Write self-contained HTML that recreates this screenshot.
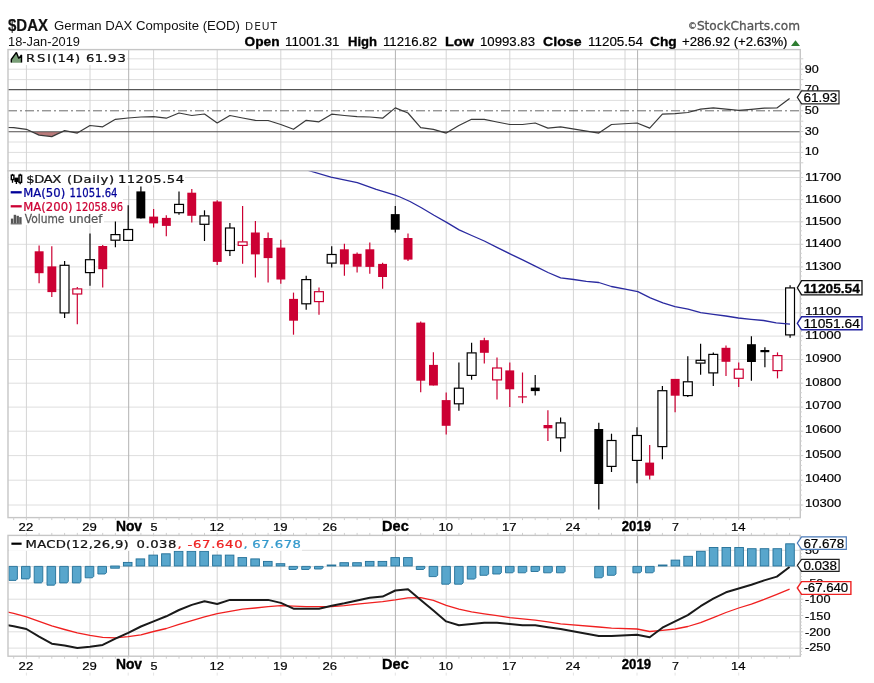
<!DOCTYPE html>
<html><head><meta charset="utf-8"><title>$DAX German DAX Composite (EOD)</title>
<style>html,body{margin:0;padding:0;background:#fff;}svg{display:block}</style></head>
<body><svg width="874" height="683" viewBox="0 0 874 683">
<rect width="874" height="683" fill="#ffffff"/>
<text x="8.0" y="30.7" font-family='"Liberation Sans", Arial, sans-serif' font-size="16" fill="#111" stroke="#111" stroke-width="0.2" font-weight="bold" textLength="40.0" lengthAdjust="spacingAndGlyphs">$DAX</text>
<text x="54.0" y="30.0" font-family='"Liberation Sans", Arial, sans-serif' font-size="12" fill="#111" textLength="186.0" lengthAdjust="spacingAndGlyphs">German DAX Composite (EOD)</text>
<text x="245.0" y="30.1" font-family='"DejaVu Sans", "Liberation Sans", sans-serif' font-size="10.6" fill="#222" letter-spacing="1.0">DEUT</text>
<text x="8.0" y="46.0" font-family='"Liberation Sans", Arial, sans-serif' font-size="12" fill="#111" textLength="72.0" lengthAdjust="spacingAndGlyphs">18-Jan-2019</text>
<text x="244.5" y="46.0" font-family='"Liberation Sans", Arial, sans-serif' font-size="12" fill="#000" stroke="#000" stroke-width="0.3" font-weight="bold" textLength="35.0" lengthAdjust="spacingAndGlyphs">Open</text>
<text x="285.0" y="46.0" font-family='"Liberation Sans", Arial, sans-serif' font-size="12" fill="#000" stroke="#000" stroke-width="0.15" textLength="54.5" lengthAdjust="spacingAndGlyphs">11001.31</text>
<text x="348.0" y="46.0" font-family='"Liberation Sans", Arial, sans-serif' font-size="12" fill="#000" stroke="#000" stroke-width="0.3" font-weight="bold" textLength="29.0" lengthAdjust="spacingAndGlyphs">High</text>
<text x="383.0" y="46.0" font-family='"Liberation Sans", Arial, sans-serif' font-size="12" fill="#000" stroke="#000" stroke-width="0.15" textLength="54.0" lengthAdjust="spacingAndGlyphs">11216.82</text>
<text x="445.0" y="46.0" font-family='"Liberation Sans", Arial, sans-serif' font-size="12" fill="#000" stroke="#000" stroke-width="0.3" font-weight="bold" textLength="29.0" lengthAdjust="spacingAndGlyphs">Low</text>
<text x="480.0" y="46.0" font-family='"Liberation Sans", Arial, sans-serif' font-size="12" fill="#000" stroke="#000" stroke-width="0.15" textLength="55.0" lengthAdjust="spacingAndGlyphs">10993.83</text>
<text x="543.0" y="46.0" font-family='"Liberation Sans", Arial, sans-serif' font-size="12" fill="#000" stroke="#000" stroke-width="0.3" font-weight="bold" textLength="38.5" lengthAdjust="spacingAndGlyphs">Close</text>
<text x="588.0" y="46.0" font-family='"Liberation Sans", Arial, sans-serif' font-size="12" fill="#000" stroke="#000" stroke-width="0.15" textLength="55.0" lengthAdjust="spacingAndGlyphs">11205.54</text>
<text x="650.0" y="46.0" font-family='"Liberation Sans", Arial, sans-serif' font-size="12" fill="#000" stroke="#000" stroke-width="0.3" font-weight="bold" textLength="26.7" lengthAdjust="spacingAndGlyphs">Chg</text>
<text x="682.0" y="46.0" font-family='"Liberation Sans", Arial, sans-serif' font-size="12" fill="#000" stroke="#000" stroke-width="0.15" textLength="105.5" lengthAdjust="spacingAndGlyphs">+286.92 (+2.63%)</text>
<polygon points="791,46 800,46 795.5,40.2" fill="#2e7d32"/>
<text x="688" y="30" font-family='"DejaVu Sans", "Liberation Sans", sans-serif' font-size="12.3" fill="#555" stroke="#555" stroke-width="0.3" textLength="112" lengthAdjust="spacingAndGlyphs"><tspan font-size="9" dy="-1.2">©</tspan><tspan dy="1.2">StockCharts.com</tspan></text>
<rect x="8.0" y="49.6" width="792.3" height="121.2" fill="#ffffff" stroke="none" stroke-width="1"/>
<line x1="8.0" y1="58.8" x2="800.3" y2="58.8" stroke="#dedede" stroke-width="1"/>
<line x1="8.0" y1="69.2" x2="800.3" y2="69.2" stroke="#dedede" stroke-width="1"/>
<line x1="8.0" y1="79.6" x2="800.3" y2="79.6" stroke="#dedede" stroke-width="1"/>
<line x1="8.0" y1="100.4" x2="800.3" y2="100.4" stroke="#dedede" stroke-width="1"/>
<line x1="8.0" y1="121.2" x2="800.3" y2="121.2" stroke="#dedede" stroke-width="1"/>
<line x1="8.0" y1="142.0" x2="800.3" y2="142.0" stroke="#dedede" stroke-width="1"/>
<line x1="8.0" y1="152.4" x2="800.3" y2="152.4" stroke="#dedede" stroke-width="1"/>
<line x1="8.0" y1="162.8" x2="800.3" y2="162.8" stroke="#dedede" stroke-width="1"/>
<line x1="26.4" y1="49.6" x2="26.4" y2="170.8" stroke="#d4d4d4" stroke-width="1"/>
<line x1="90.0" y1="49.6" x2="90.0" y2="170.8" stroke="#d4d4d4" stroke-width="1"/>
<line x1="153.6" y1="49.6" x2="153.6" y2="170.8" stroke="#d4d4d4" stroke-width="1"/>
<line x1="217.2" y1="49.6" x2="217.2" y2="170.8" stroke="#d4d4d4" stroke-width="1"/>
<line x1="280.8" y1="49.6" x2="280.8" y2="170.8" stroke="#d4d4d4" stroke-width="1"/>
<line x1="331.7" y1="49.6" x2="331.7" y2="170.8" stroke="#d4d4d4" stroke-width="1"/>
<line x1="446.2" y1="49.6" x2="446.2" y2="170.8" stroke="#d4d4d4" stroke-width="1"/>
<line x1="509.8" y1="49.6" x2="509.8" y2="170.8" stroke="#d4d4d4" stroke-width="1"/>
<line x1="573.4" y1="49.6" x2="573.4" y2="170.8" stroke="#d4d4d4" stroke-width="1"/>
<line x1="625.0" y1="49.6" x2="625.0" y2="170.8" stroke="#d4d4d4" stroke-width="1"/>
<line x1="675.1" y1="49.6" x2="675.1" y2="170.8" stroke="#d4d4d4" stroke-width="1"/>
<line x1="738.7" y1="49.6" x2="738.7" y2="170.8" stroke="#d4d4d4" stroke-width="1"/>
<line x1="128.7" y1="49.6" x2="128.7" y2="170.8" stroke="#b2b2b2" stroke-width="1.0"/>
<line x1="395.4" y1="49.6" x2="395.4" y2="170.8" stroke="#b2b2b2" stroke-width="1.0"/>
<line x1="637.6" y1="49.6" x2="637.6" y2="170.8" stroke="#b2b2b2" stroke-width="1.0"/>
<clipPath id="cr"><rect x="8.0" y="49.6" width="792.3" height="121.20000000000002"/></clipPath>
<clipPath id="cr30"><rect x="8.0" y="131.8" width="792.3" height="40"/></clipPath>
<g clip-path="url(#cr)"><polygon clip-path="url(#cr30)" points="1.0,131.8 1.0,127.4 13.7,127.6 26.4,129.3 39.1,135.1 51.8,136.6 64.6,130.6 77.3,133.1 90.0,125.5 102.7,126.8 115.4,119.3 128.2,118.0 140.9,117.0 153.6,116.7 166.3,118.2 179.0,113.0 191.8,115.5 204.5,114.0 217.2,123.0 229.9,115.5 242.6,118.0 255.4,120.3 268.1,120.5 280.8,124.5 293.5,129.3 306.2,120.3 319.0,121.8 331.7,114.2 344.4,115.5 357.1,116.7 369.8,117.0 382.6,118.2 395.3,107.9 408.0,113.0 420.7,127.6 433.4,129.3 446.2,133.1 458.9,125.5 471.6,119.3 484.3,119.3 497.0,122.0 509.8,124.5 522.5,124.5 535.2,123.0 547.9,128.1 560.6,126.8 598.8,133.1 611.5,124.5 637.0,123.0 649.7,128.1 662.4,114.2 675.1,113.7 687.8,112.5 700.6,109.2 713.3,107.9 726.0,109.2 738.7,110.4 751.4,109.4 764.2,108.2 776.9,107.9 789.6,98.4 789.6,131.8" fill="#b97a7a"/></g>
<line x1="8.0" y1="89.6" x2="800.3" y2="89.6" stroke="#555" stroke-width="1.1"/>
<line x1="8.0" y1="131.8" x2="800.3" y2="131.8" stroke="#555" stroke-width="1.1"/>
<line x1="8.0" y1="110.8" x2="800.3" y2="110.8" stroke="#6a6a6a" stroke-width="1" stroke-dasharray="9,3,2,3"/>
<polyline clip-path="url(#cr)" points="1.0,127.4 13.7,127.6 26.4,129.3 39.1,135.1 51.8,136.6 64.6,130.6 77.3,133.1 90.0,125.5 102.7,126.8 115.4,119.3 128.2,118.0 140.9,117.0 153.6,116.7 166.3,118.2 179.0,113.0 191.8,115.5 204.5,114.0 217.2,123.0 229.9,115.5 242.6,118.0 255.4,120.3 268.1,120.5 280.8,124.5 293.5,129.3 306.2,120.3 319.0,121.8 331.7,114.2 344.4,115.5 357.1,116.7 369.8,117.0 382.6,118.2 395.3,107.9 408.0,113.0 420.7,127.6 433.4,129.3 446.2,133.1 458.9,125.5 471.6,119.3 484.3,119.3 497.0,122.0 509.8,124.5 522.5,124.5 535.2,123.0 547.9,128.1 560.6,126.8 598.8,133.1 611.5,124.5 637.0,123.0 649.7,128.1 662.4,114.2 675.1,113.7 687.8,112.5 700.6,109.2 713.3,107.9 726.0,109.2 738.7,110.4 751.4,109.4 764.2,108.2 776.9,107.9 789.6,98.4" fill="none" stroke="#3a3a3a" stroke-width="1.2" stroke-linejoin="round"/>
<rect x="9.0" y="50.5" width="118.0" height="14.5" fill="#ffffff" stroke="none" stroke-width="1"/>
<path d="M11.3,62.8 L11.3,59.5 L16.4,52.4 L18.8,58.4 L21.5,55.0 L21.5,62.8 Z" fill="#799e77"/>
<path d="M11.3,62.6 L11.3,59.5 L16.4,52.4 L18.8,58.4 L21.5,55.0 L21.5,62.6" fill="none" stroke="#000" stroke-width="1.4" stroke-linejoin="bevel"/>
<text transform="translate(25.9 62.3) scale(1.2 1)" font-family='"DejaVu Sans", "Liberation Sans", sans-serif' font-size="11" fill="#111" stroke="#111" stroke-width="0.25" x="0.00 9.17 17.50 21.75 26.42 33.33 40.92 45.50 50.08 57.33 64.67 68.42 76.33">RSI(14) 61.93</text>
<rect x="8.0" y="49.6" width="792.3" height="121.2" fill="none" stroke="#c6c6c6" stroke-width="1.4"/>
<line x1="800.3" y1="162.8" x2="803.3" y2="162.8" stroke="#cfcfcf" stroke-width="1"/>
<line x1="800.3" y1="152.4" x2="803.3" y2="152.4" stroke="#cfcfcf" stroke-width="1"/>
<line x1="800.3" y1="142.0" x2="803.3" y2="142.0" stroke="#cfcfcf" stroke-width="1"/>
<line x1="800.3" y1="131.6" x2="803.3" y2="131.6" stroke="#cfcfcf" stroke-width="1"/>
<line x1="800.3" y1="121.2" x2="803.3" y2="121.2" stroke="#cfcfcf" stroke-width="1"/>
<line x1="800.3" y1="110.8" x2="803.3" y2="110.8" stroke="#cfcfcf" stroke-width="1"/>
<line x1="800.3" y1="100.4" x2="803.3" y2="100.4" stroke="#cfcfcf" stroke-width="1"/>
<line x1="800.3" y1="90.0" x2="803.3" y2="90.0" stroke="#cfcfcf" stroke-width="1"/>
<line x1="800.3" y1="79.6" x2="803.3" y2="79.6" stroke="#cfcfcf" stroke-width="1"/>
<line x1="800.3" y1="69.2" x2="803.3" y2="69.2" stroke="#cfcfcf" stroke-width="1"/>
<line x1="800.3" y1="58.8" x2="803.3" y2="58.8" stroke="#cfcfcf" stroke-width="1"/>
<line x1="800.3" y1="157.6" x2="801.9" y2="157.6" stroke="#cfcfcf" stroke-width="1"/>
<line x1="800.3" y1="147.2" x2="801.9" y2="147.2" stroke="#cfcfcf" stroke-width="1"/>
<line x1="800.3" y1="136.8" x2="801.9" y2="136.8" stroke="#cfcfcf" stroke-width="1"/>
<line x1="800.3" y1="126.4" x2="801.9" y2="126.4" stroke="#cfcfcf" stroke-width="1"/>
<line x1="800.3" y1="116.0" x2="801.9" y2="116.0" stroke="#cfcfcf" stroke-width="1"/>
<line x1="800.3" y1="105.6" x2="801.9" y2="105.6" stroke="#cfcfcf" stroke-width="1"/>
<line x1="800.3" y1="95.2" x2="801.9" y2="95.2" stroke="#cfcfcf" stroke-width="1"/>
<line x1="800.3" y1="84.8" x2="801.9" y2="84.8" stroke="#cfcfcf" stroke-width="1"/>
<line x1="800.3" y1="74.4" x2="801.9" y2="74.4" stroke="#cfcfcf" stroke-width="1"/>
<line x1="800.3" y1="64.0" x2="801.9" y2="64.0" stroke="#cfcfcf" stroke-width="1"/>
<text x="804.8" y="72.6" font-family='"Liberation Sans", Arial, sans-serif' font-size="11.8" fill="#000" stroke="#000" stroke-width="0.2" textLength="14.0" lengthAdjust="spacingAndGlyphs">90</text>
<text x="804.8" y="93.3" font-family='"Liberation Sans", Arial, sans-serif' font-size="11.8" fill="#000" stroke="#000" stroke-width="0.2" textLength="14.0" lengthAdjust="spacingAndGlyphs">70</text>
<text x="804.8" y="113.9" font-family='"Liberation Sans", Arial, sans-serif' font-size="11.8" fill="#000" stroke="#000" stroke-width="0.2" textLength="14.0" lengthAdjust="spacingAndGlyphs">50</text>
<text x="804.8" y="134.5" font-family='"Liberation Sans", Arial, sans-serif' font-size="11.8" fill="#000" stroke="#000" stroke-width="0.2" textLength="14.0" lengthAdjust="spacingAndGlyphs">30</text>
<text x="804.8" y="155.2" font-family='"Liberation Sans", Arial, sans-serif' font-size="11.8" fill="#000" stroke="#000" stroke-width="0.2" textLength="14.0" lengthAdjust="spacingAndGlyphs">10</text>
<polygon points="797.3,97.3 801.6,90.8 839.0,90.8 839.0,103.8 801.6,103.8" fill="#fff" stroke="#222" stroke-width="1.2" stroke-linejoin="miter"/>
<text x="803.4" y="101.7" font-family='"Liberation Sans", Arial, sans-serif' font-size="12.2" fill="#000" stroke="#000" stroke-width="0.2" textLength="34.0" lengthAdjust="spacingAndGlyphs">61.93</text>
<rect x="8.0" y="170.8" width="792.3" height="346.8" fill="#ffffff" stroke="none" stroke-width="1"/>
<line x1="8.0" y1="505.0" x2="800.3" y2="505.0" stroke="#dedede" stroke-width="1"/>
<line x1="8.0" y1="480.2" x2="800.3" y2="480.2" stroke="#dedede" stroke-width="1"/>
<line x1="8.0" y1="455.6" x2="800.3" y2="455.6" stroke="#dedede" stroke-width="1"/>
<line x1="8.0" y1="431.2" x2="800.3" y2="431.2" stroke="#dedede" stroke-width="1"/>
<line x1="8.0" y1="407.1" x2="800.3" y2="407.1" stroke="#dedede" stroke-width="1"/>
<line x1="8.0" y1="383.2" x2="800.3" y2="383.2" stroke="#dedede" stroke-width="1"/>
<line x1="8.0" y1="359.5" x2="800.3" y2="359.5" stroke="#dedede" stroke-width="1"/>
<line x1="8.0" y1="336.1" x2="800.3" y2="336.1" stroke="#dedede" stroke-width="1"/>
<line x1="8.0" y1="312.8" x2="800.3" y2="312.8" stroke="#dedede" stroke-width="1"/>
<line x1="8.0" y1="289.7" x2="800.3" y2="289.7" stroke="#dedede" stroke-width="1"/>
<line x1="8.0" y1="266.9" x2="800.3" y2="266.9" stroke="#dedede" stroke-width="1"/>
<line x1="8.0" y1="244.3" x2="800.3" y2="244.3" stroke="#dedede" stroke-width="1"/>
<line x1="8.0" y1="221.8" x2="800.3" y2="221.8" stroke="#dedede" stroke-width="1"/>
<line x1="8.0" y1="199.6" x2="800.3" y2="199.6" stroke="#dedede" stroke-width="1"/>
<line x1="8.0" y1="177.5" x2="800.3" y2="177.5" stroke="#dedede" stroke-width="1"/>
<line x1="26.4" y1="170.8" x2="26.4" y2="517.6" stroke="#d4d4d4" stroke-width="1"/>
<line x1="90.0" y1="170.8" x2="90.0" y2="517.6" stroke="#d4d4d4" stroke-width="1"/>
<line x1="153.6" y1="170.8" x2="153.6" y2="517.6" stroke="#d4d4d4" stroke-width="1"/>
<line x1="217.2" y1="170.8" x2="217.2" y2="517.6" stroke="#d4d4d4" stroke-width="1"/>
<line x1="280.8" y1="170.8" x2="280.8" y2="517.6" stroke="#d4d4d4" stroke-width="1"/>
<line x1="331.7" y1="170.8" x2="331.7" y2="517.6" stroke="#d4d4d4" stroke-width="1"/>
<line x1="446.2" y1="170.8" x2="446.2" y2="517.6" stroke="#d4d4d4" stroke-width="1"/>
<line x1="509.8" y1="170.8" x2="509.8" y2="517.6" stroke="#d4d4d4" stroke-width="1"/>
<line x1="573.4" y1="170.8" x2="573.4" y2="517.6" stroke="#d4d4d4" stroke-width="1"/>
<line x1="625.0" y1="170.8" x2="625.0" y2="517.6" stroke="#d4d4d4" stroke-width="1"/>
<line x1="675.1" y1="170.8" x2="675.1" y2="517.6" stroke="#d4d4d4" stroke-width="1"/>
<line x1="738.7" y1="170.8" x2="738.7" y2="517.6" stroke="#d4d4d4" stroke-width="1"/>
<line x1="128.7" y1="170.8" x2="128.7" y2="517.6" stroke="#b2b2b2" stroke-width="1.0"/>
<line x1="395.4" y1="170.8" x2="395.4" y2="517.6" stroke="#b2b2b2" stroke-width="1.0"/>
<line x1="637.6" y1="170.8" x2="637.6" y2="517.6" stroke="#b2b2b2" stroke-width="1.0"/>
<clipPath id="cm"><rect x="8.0" y="170.8" width="792.3" height="346.8"/></clipPath>
<line x1="39.1" y1="245.5" x2="39.1" y2="283.3" stroke="#cc0033" stroke-width="1.2"/>
<rect x="34.7" y="251.3" width="8.9" height="21.9" fill="#cc0033" stroke="none" stroke-width="1"/>
<line x1="51.8" y1="246.3" x2="51.8" y2="297.1" stroke="#cc0033" stroke-width="1.2"/>
<rect x="47.4" y="266.4" width="8.9" height="25.7" fill="#cc0033" stroke="none" stroke-width="1"/>
<line x1="64.6" y1="261.1" x2="64.6" y2="265.2" stroke="#000000" stroke-width="1.2"/>
<line x1="64.6" y1="313.0" x2="64.6" y2="318.0" stroke="#000000" stroke-width="1.2"/>
<rect x="60.1" y="265.3" width="8.9" height="47.6" fill="#fff" stroke="#000000" stroke-width="1.2"/>
<line x1="77.3" y1="287.0" x2="77.3" y2="288.8" stroke="#cc0033" stroke-width="1.2"/>
<line x1="77.3" y1="294.1" x2="77.3" y2="324.3" stroke="#cc0033" stroke-width="1.2"/>
<rect x="72.8" y="288.9" width="8.9" height="5.1" fill="#fff" stroke="#cc0033" stroke-width="1.2"/>
<line x1="90.0" y1="233.5" x2="90.0" y2="259.6" stroke="#000000" stroke-width="1.2"/>
<line x1="90.0" y1="272.7" x2="90.0" y2="285.8" stroke="#000000" stroke-width="1.2"/>
<rect x="85.5" y="259.7" width="8.9" height="12.9" fill="#fff" stroke="#000000" stroke-width="1.2"/>
<line x1="102.7" y1="245.0" x2="102.7" y2="287.6" stroke="#cc0033" stroke-width="1.2"/>
<rect x="98.3" y="246.0" width="8.9" height="23.2" fill="#cc0033" stroke="none" stroke-width="1"/>
<line x1="115.4" y1="221.6" x2="115.4" y2="234.5" stroke="#000000" stroke-width="1.2"/>
<line x1="115.4" y1="240.3" x2="115.4" y2="247.3" stroke="#000000" stroke-width="1.2"/>
<rect x="111.0" y="234.6" width="8.9" height="5.6" fill="#fff" stroke="#000000" stroke-width="1.2"/>
<line x1="128.2" y1="205.3" x2="128.2" y2="229.4" stroke="#000000" stroke-width="1.2"/>
<line x1="128.2" y1="240.5" x2="128.2" y2="240.5" stroke="#000000" stroke-width="1.2"/>
<rect x="123.7" y="229.5" width="8.9" height="10.9" fill="#fff" stroke="#000000" stroke-width="1.2"/>
<line x1="140.9" y1="186.4" x2="140.9" y2="218.4" stroke="#000000" stroke-width="1.2"/>
<rect x="136.4" y="191.4" width="8.9" height="27.0" fill="#000000" stroke="none" stroke-width="1"/>
<line x1="153.6" y1="209.0" x2="153.6" y2="227.4" stroke="#cc0033" stroke-width="1.2"/>
<rect x="149.2" y="216.6" width="8.9" height="6.8" fill="#cc0033" stroke="none" stroke-width="1"/>
<line x1="166.3" y1="215.3" x2="166.3" y2="236.2" stroke="#cc0033" stroke-width="1.2"/>
<rect x="161.9" y="217.9" width="8.9" height="8.0" fill="#cc0033" stroke="none" stroke-width="1"/>
<line x1="179.0" y1="191.4" x2="179.0" y2="204.3" stroke="#000000" stroke-width="1.2"/>
<line x1="179.0" y1="212.8" x2="179.0" y2="214.8" stroke="#000000" stroke-width="1.2"/>
<rect x="174.6" y="204.4" width="8.9" height="8.3" fill="#fff" stroke="#000000" stroke-width="1.2"/>
<line x1="191.8" y1="188.9" x2="191.8" y2="222.4" stroke="#cc0033" stroke-width="1.2"/>
<rect x="187.3" y="192.7" width="8.9" height="23.1" fill="#cc0033" stroke="none" stroke-width="1"/>
<line x1="204.5" y1="210.3" x2="204.5" y2="215.8" stroke="#000000" stroke-width="1.2"/>
<line x1="204.5" y1="224.4" x2="204.5" y2="241.0" stroke="#000000" stroke-width="1.2"/>
<rect x="200.0" y="215.9" width="8.9" height="8.4" fill="#fff" stroke="#000000" stroke-width="1.2"/>
<line x1="217.2" y1="200.2" x2="217.2" y2="264.9" stroke="#cc0033" stroke-width="1.2"/>
<rect x="212.8" y="201.5" width="8.9" height="60.4" fill="#cc0033" stroke="none" stroke-width="1"/>
<line x1="229.9" y1="222.9" x2="229.9" y2="227.9" stroke="#000000" stroke-width="1.2"/>
<line x1="229.9" y1="250.6" x2="229.9" y2="256.1" stroke="#000000" stroke-width="1.2"/>
<rect x="225.5" y="228.0" width="8.9" height="22.5" fill="#fff" stroke="#000000" stroke-width="1.2"/>
<line x1="242.6" y1="206.0" x2="242.6" y2="241.8" stroke="#cc0033" stroke-width="1.2"/>
<line x1="242.6" y1="245.5" x2="242.6" y2="263.7" stroke="#cc0033" stroke-width="1.2"/>
<rect x="238.2" y="241.9" width="8.9" height="3.5" fill="#fff" stroke="#cc0033" stroke-width="1.2"/>
<line x1="255.4" y1="221.1" x2="255.4" y2="277.5" stroke="#cc0033" stroke-width="1.2"/>
<rect x="250.9" y="232.5" width="8.9" height="21.9" fill="#cc0033" stroke="none" stroke-width="1"/>
<line x1="268.1" y1="232.5" x2="268.1" y2="282.5" stroke="#cc0033" stroke-width="1.2"/>
<rect x="263.6" y="238.0" width="8.9" height="20.1" fill="#cc0033" stroke="none" stroke-width="1"/>
<line x1="280.8" y1="239.8" x2="280.8" y2="283.8" stroke="#cc0033" stroke-width="1.2"/>
<rect x="276.4" y="247.6" width="8.9" height="31.9" fill="#cc0033" stroke="none" stroke-width="1"/>
<line x1="293.5" y1="292.6" x2="293.5" y2="334.7" stroke="#cc0033" stroke-width="1.2"/>
<rect x="289.1" y="298.9" width="8.9" height="21.8" fill="#cc0033" stroke="none" stroke-width="1"/>
<line x1="306.2" y1="275.7" x2="306.2" y2="279.5" stroke="#000000" stroke-width="1.2"/>
<line x1="306.2" y1="303.9" x2="306.2" y2="309.7" stroke="#000000" stroke-width="1.2"/>
<rect x="301.8" y="279.6" width="8.9" height="24.2" fill="#fff" stroke="#000000" stroke-width="1.2"/>
<line x1="319.0" y1="287.6" x2="319.0" y2="291.6" stroke="#cc0033" stroke-width="1.2"/>
<line x1="319.0" y1="301.7" x2="319.0" y2="314.7" stroke="#cc0033" stroke-width="1.2"/>
<rect x="314.5" y="291.7" width="8.9" height="9.9" fill="#fff" stroke="#cc0033" stroke-width="1.2"/>
<line x1="331.7" y1="246.3" x2="331.7" y2="254.4" stroke="#000000" stroke-width="1.2"/>
<line x1="331.7" y1="263.2" x2="331.7" y2="267.4" stroke="#000000" stroke-width="1.2"/>
<rect x="327.2" y="254.5" width="8.9" height="8.6" fill="#fff" stroke="#000000" stroke-width="1.2"/>
<line x1="344.4" y1="243.8" x2="344.4" y2="275.7" stroke="#cc0033" stroke-width="1.2"/>
<rect x="339.9" y="249.3" width="8.9" height="15.1" fill="#cc0033" stroke="none" stroke-width="1"/>
<line x1="357.1" y1="252.6" x2="357.1" y2="272.5" stroke="#cc0033" stroke-width="1.2"/>
<rect x="352.7" y="253.8" width="8.9" height="12.9" fill="#cc0033" stroke="none" stroke-width="1"/>
<line x1="369.8" y1="242.5" x2="369.8" y2="273.7" stroke="#cc0033" stroke-width="1.2"/>
<rect x="365.4" y="249.3" width="8.9" height="17.6" fill="#cc0033" stroke="none" stroke-width="1"/>
<line x1="382.6" y1="262.7" x2="382.6" y2="288.8" stroke="#cc0033" stroke-width="1.2"/>
<rect x="378.1" y="263.9" width="8.9" height="13.1" fill="#cc0033" stroke="none" stroke-width="1"/>
<line x1="395.3" y1="206.0" x2="395.3" y2="232.5" stroke="#000000" stroke-width="1.2"/>
<rect x="390.8" y="214.1" width="8.9" height="15.6" fill="#000000" stroke="none" stroke-width="1"/>
<line x1="408.0" y1="233.5" x2="408.0" y2="261.1" stroke="#cc0033" stroke-width="1.2"/>
<rect x="403.6" y="238.0" width="8.9" height="21.6" fill="#cc0033" stroke="none" stroke-width="1"/>
<line x1="420.7" y1="321.4" x2="420.7" y2="392.3" stroke="#cc0033" stroke-width="1.2"/>
<rect x="416.3" y="322.6" width="8.9" height="58.1" fill="#cc0033" stroke="none" stroke-width="1"/>
<line x1="433.4" y1="352.3" x2="433.4" y2="385.5" stroke="#cc0033" stroke-width="1.2"/>
<rect x="429.0" y="364.9" width="8.9" height="20.6" fill="#cc0033" stroke="none" stroke-width="1"/>
<line x1="446.2" y1="392.6" x2="446.2" y2="434.6" stroke="#cc0033" stroke-width="1.2"/>
<rect x="441.7" y="400.1" width="8.9" height="25.7" fill="#cc0033" stroke="none" stroke-width="1"/>
<line x1="458.9" y1="362.4" x2="458.9" y2="388.1" stroke="#000000" stroke-width="1.2"/>
<line x1="458.9" y1="403.9" x2="458.9" y2="410.7" stroke="#000000" stroke-width="1.2"/>
<rect x="454.4" y="388.2" width="8.9" height="15.6" fill="#fff" stroke="#000000" stroke-width="1.2"/>
<line x1="471.6" y1="342.8" x2="471.6" y2="352.8" stroke="#000000" stroke-width="1.2"/>
<line x1="471.6" y1="375.5" x2="471.6" y2="379.8" stroke="#000000" stroke-width="1.2"/>
<rect x="467.2" y="352.9" width="8.9" height="22.5" fill="#fff" stroke="#000000" stroke-width="1.2"/>
<line x1="484.3" y1="337.7" x2="484.3" y2="363.4" stroke="#cc0033" stroke-width="1.2"/>
<rect x="479.9" y="340.2" width="8.9" height="12.6" fill="#cc0033" stroke="none" stroke-width="1"/>
<line x1="497.0" y1="357.4" x2="497.0" y2="367.9" stroke="#cc0033" stroke-width="1.2"/>
<line x1="497.0" y1="380.0" x2="497.0" y2="399.4" stroke="#cc0033" stroke-width="1.2"/>
<rect x="492.6" y="368.0" width="8.9" height="11.9" fill="#fff" stroke="#cc0033" stroke-width="1.2"/>
<line x1="509.8" y1="362.4" x2="509.8" y2="406.9" stroke="#cc0033" stroke-width="1.2"/>
<rect x="505.3" y="370.4" width="8.9" height="18.9" fill="#cc0033" stroke="none" stroke-width="1"/>
<line x1="522.5" y1="372.5" x2="522.5" y2="403.2" stroke="#cc0033" stroke-width="1.2"/>
<line x1="518.0" y1="396.9" x2="526.9" y2="396.9" stroke="#cc0033" stroke-width="1.2"/>
<line x1="535.2" y1="375.0" x2="535.2" y2="395.6" stroke="#000000" stroke-width="1.2"/>
<rect x="530.8" y="387.6" width="8.9" height="3.5" fill="#000000" stroke="none" stroke-width="1"/>
<line x1="547.9" y1="410.2" x2="547.9" y2="440.9" stroke="#cc0033" stroke-width="1.2"/>
<rect x="543.5" y="425.0" width="8.9" height="3.3" fill="#cc0033" stroke="none" stroke-width="1"/>
<line x1="560.6" y1="417.5" x2="560.6" y2="422.8" stroke="#000000" stroke-width="1.2"/>
<line x1="560.6" y1="437.9" x2="560.6" y2="451.7" stroke="#000000" stroke-width="1.2"/>
<rect x="556.2" y="422.9" width="8.9" height="14.9" fill="#fff" stroke="#000000" stroke-width="1.2"/>
<line x1="598.8" y1="422.7" x2="598.8" y2="509.6" stroke="#000000" stroke-width="1.2"/>
<rect x="594.3" y="429.0" width="8.9" height="55.0" fill="#000000" stroke="none" stroke-width="1"/>
<line x1="611.5" y1="433.7" x2="611.5" y2="440.4" stroke="#000000" stroke-width="1.2"/>
<line x1="611.5" y1="466.5" x2="611.5" y2="472.0" stroke="#000000" stroke-width="1.2"/>
<rect x="607.1" y="440.5" width="8.9" height="25.9" fill="#fff" stroke="#000000" stroke-width="1.2"/>
<line x1="637.0" y1="427.3" x2="637.0" y2="435.4" stroke="#000000" stroke-width="1.2"/>
<line x1="637.0" y1="460.5" x2="637.0" y2="483.2" stroke="#000000" stroke-width="1.2"/>
<rect x="632.5" y="435.5" width="8.9" height="24.9" fill="#fff" stroke="#000000" stroke-width="1.2"/>
<line x1="649.7" y1="444.9" x2="649.7" y2="479.4" stroke="#cc0033" stroke-width="1.2"/>
<rect x="645.2" y="462.6" width="8.9" height="13.0" fill="#cc0033" stroke="none" stroke-width="1"/>
<line x1="662.4" y1="386.1" x2="662.4" y2="390.6" stroke="#000000" stroke-width="1.2"/>
<line x1="662.4" y1="446.7" x2="662.4" y2="459.3" stroke="#000000" stroke-width="1.2"/>
<rect x="657.9" y="390.7" width="8.9" height="55.9" fill="#fff" stroke="#000000" stroke-width="1.2"/>
<line x1="675.1" y1="378.9" x2="675.1" y2="412.2" stroke="#cc0033" stroke-width="1.2"/>
<rect x="670.7" y="378.9" width="8.9" height="16.8" fill="#cc0033" stroke="none" stroke-width="1"/>
<line x1="687.8" y1="356.2" x2="687.8" y2="381.7" stroke="#000000" stroke-width="1.2"/>
<line x1="687.8" y1="395.7" x2="687.8" y2="397.0" stroke="#000000" stroke-width="1.2"/>
<rect x="683.4" y="381.8" width="8.9" height="13.8" fill="#fff" stroke="#000000" stroke-width="1.2"/>
<line x1="700.6" y1="343.8" x2="700.6" y2="360.2" stroke="#000000" stroke-width="1.2"/>
<line x1="700.6" y1="363.2" x2="700.6" y2="374.7" stroke="#000000" stroke-width="1.2"/>
<rect x="696.1" y="360.3" width="8.9" height="2.8" fill="#fff" stroke="#000000" stroke-width="1.2"/>
<line x1="713.3" y1="352.4" x2="713.3" y2="354.3" stroke="#000000" stroke-width="1.2"/>
<line x1="713.3" y1="373.0" x2="713.3" y2="385.9" stroke="#000000" stroke-width="1.2"/>
<rect x="708.8" y="354.4" width="8.9" height="18.5" fill="#fff" stroke="#000000" stroke-width="1.2"/>
<line x1="726.0" y1="345.4" x2="726.0" y2="375.9" stroke="#cc0033" stroke-width="1.2"/>
<rect x="721.5" y="347.8" width="8.9" height="14.0" fill="#cc0033" stroke="none" stroke-width="1"/>
<line x1="738.7" y1="362.5" x2="738.7" y2="369.1" stroke="#cc0033" stroke-width="1.2"/>
<line x1="738.7" y1="378.4" x2="738.7" y2="387.1" stroke="#cc0033" stroke-width="1.2"/>
<rect x="734.3" y="369.2" width="8.9" height="9.1" fill="#fff" stroke="#cc0033" stroke-width="1.2"/>
<line x1="751.4" y1="336.3" x2="751.4" y2="380.8" stroke="#000000" stroke-width="1.2"/>
<rect x="747.0" y="344.2" width="8.9" height="17.8" fill="#000000" stroke="none" stroke-width="1"/>
<line x1="764.9" y1="347.3" x2="764.9" y2="367.2" stroke="#000000" stroke-width="1.2"/>
<rect x="760.4" y="350.0" width="8.9" height="2.2" fill="#000000" stroke="none" stroke-width="1"/>
<line x1="777.5" y1="352.4" x2="777.5" y2="355.5" stroke="#cc0033" stroke-width="1.2"/>
<line x1="777.5" y1="370.7" x2="777.5" y2="378.4" stroke="#cc0033" stroke-width="1.2"/>
<rect x="773.0" y="355.6" width="8.9" height="15.0" fill="#fff" stroke="#cc0033" stroke-width="1.2"/>
<line x1="790.1" y1="285.2" x2="790.1" y2="287.8" stroke="#000000" stroke-width="1.2"/>
<line x1="790.1" y1="335.0" x2="790.1" y2="337.8" stroke="#000000" stroke-width="1.2"/>
<rect x="785.6" y="287.9" width="8.9" height="47.0" fill="#fff" stroke="#000000" stroke-width="1.2"/>
<polyline clip-path="url(#cm)" points="306.5,169.0 308.2,170.5 330.9,177.1 357.3,182.6 376.2,189.4 395.1,195.2 400.0,197.0 410.0,201.5 421.4,207.8 434.0,215.3 446.6,222.4 459.1,229.9 471.7,235.5 484.3,241.0 496.9,247.3 510.0,253.8 522.6,259.9 535.2,266.2 548.0,272.5 560.6,277.8 573.7,279.5 586.3,281.3 598.8,282.5 611.4,286.5 625.2,289.1 637.8,291.6 650.3,297.9 662.9,302.9 675.0,306.7 688.1,309.2 700.7,312.7 713.3,314.3 725.8,316.0 738.4,318.0 751.0,319.3 763.6,320.5 776.2,322.8 790.0,324.1" fill="none" stroke="#2a2aa0" stroke-width="1.3" stroke-linejoin="round"/>
<rect x="9.0" y="172.0" width="176.0" height="13.5" fill="#ffffff" stroke="none" stroke-width="1"/>
<rect x="9.0" y="185.5" width="109.5" height="13.5" fill="#ffffff" stroke="none" stroke-width="1"/>
<rect x="9.0" y="199.0" width="114.0" height="13.5" fill="#ffffff" stroke="none" stroke-width="1"/>
<rect x="9.0" y="212.5" width="95.0" height="12.5" fill="#ffffff" stroke="none" stroke-width="1"/>
<line x1="12.5" y1="173.9" x2="12.5" y2="182.8" stroke="#000" stroke-width="1.3"/>
<rect x="11.3" y="175.2" width="2.6" height="4.4" fill="#fff" stroke="#000" stroke-width="1.4"/>
<rect x="14.4" y="177.6" width="4.2" height="4.4" fill="#000" stroke="none" stroke-width="1"/>
<line x1="16.4" y1="181.0" x2="16.4" y2="184.0" stroke="#000" stroke-width="1.4"/>
<line x1="20.2" y1="173.8" x2="20.2" y2="184.2" stroke="#000" stroke-width="1.3"/>
<rect x="19.0" y="175.2" width="2.6" height="7.2" fill="#c8c8c8" stroke="#000" stroke-width="1.4"/>
<text transform="translate(26.3 183.4) scale(1.2 1)" font-family='"DejaVu Sans", "Liberation Sans", sans-serif' font-size="11" fill="#111" letter-spacing="-0.36" stroke="#111" stroke-width="0.25">$DAX</text>
<text transform="translate(67.1 183.4) scale(1.2 1)" font-family='"DejaVu Sans", "Liberation Sans", sans-serif' font-size="11" fill="#111" letter-spacing="0.47" stroke="#111" stroke-width="0.25">(Daily)</text>
<text transform="translate(117.9 183.4) scale(1.2 1)" font-family='"DejaVu Sans", "Liberation Sans", sans-serif' font-size="11" fill="#111" letter-spacing="0.39" stroke="#111" stroke-width="0.25">11205.54</text>
<line x1="10.7" y1="192.3" x2="21.7" y2="192.3" stroke="#000099" stroke-width="2.3"/>
<text transform="translate(23.3 197.0) scale(0.97 1)" font-family='"DejaVu Sans", "Liberation Sans", sans-serif' font-size="12" fill="#000099" stroke="#000099" stroke-width="0.25">MA(50)</text>
<text transform="translate(69.4 197.0) scale(0.84 1)" font-family='"DejaVu Sans", "Liberation Sans", sans-serif' font-size="12" fill="#000099" stroke="#000099" stroke-width="0.25">11051.64</text>
<line x1="10.7" y1="206.3" x2="21.7" y2="206.3" stroke="#cc0033" stroke-width="2.3"/>
<text transform="translate(23.3 210.8) scale(0.97 1)" font-family='"DejaVu Sans", "Liberation Sans", sans-serif' font-size="12" fill="#cc0033" stroke="#cc0033" stroke-width="0.25">MA(200)</text>
<text transform="translate(75.6 210.8) scale(0.83 1)" font-family='"DejaVu Sans", "Liberation Sans", sans-serif' font-size="12" fill="#cc0033" stroke="#cc0033" stroke-width="0.25">12058.96</text>
<rect x="10.9" y="218.6" width="2.4" height="5.0" fill="#555" stroke="none" stroke-width="1"/>
<rect x="13.7" y="214.8" width="2.4" height="8.8" fill="#555" stroke="none" stroke-width="1"/>
<rect x="16.5" y="215.8" width="2.4" height="7.8" fill="#555" stroke="none" stroke-width="1"/>
<rect x="19.2" y="217.1" width="2.4" height="6.5" fill="#555" stroke="none" stroke-width="1"/>
<line x1="10.7" y1="223.9" x2="21.7" y2="223.9" stroke="#555" stroke-width="1"/>
<text transform="translate(24.7 223.3) scale(0.89 1)" font-family='"DejaVu Sans", "Liberation Sans", sans-serif' font-size="12" fill="#555" stroke="#555" stroke-width="0.25">Volume</text>
<text transform="translate(68.9 223.3) scale(0.97 1)" font-family='"DejaVu Sans", "Liberation Sans", sans-serif' font-size="12" fill="#555" stroke="#555" stroke-width="0.25">undef</text>
<rect x="8.0" y="170.8" width="792.3" height="346.8" fill="none" stroke="#c6c6c6" stroke-width="1.4"/>
<line x1="800.3" y1="505.0" x2="803.3" y2="505.0" stroke="#cfcfcf" stroke-width="1"/>
<line x1="800.3" y1="480.2" x2="803.3" y2="480.2" stroke="#cfcfcf" stroke-width="1"/>
<line x1="800.3" y1="455.6" x2="803.3" y2="455.6" stroke="#cfcfcf" stroke-width="1"/>
<line x1="800.3" y1="431.2" x2="803.3" y2="431.2" stroke="#cfcfcf" stroke-width="1"/>
<line x1="800.3" y1="407.1" x2="803.3" y2="407.1" stroke="#cfcfcf" stroke-width="1"/>
<line x1="800.3" y1="383.2" x2="803.3" y2="383.2" stroke="#cfcfcf" stroke-width="1"/>
<line x1="800.3" y1="359.5" x2="803.3" y2="359.5" stroke="#cfcfcf" stroke-width="1"/>
<line x1="800.3" y1="336.1" x2="803.3" y2="336.1" stroke="#cfcfcf" stroke-width="1"/>
<line x1="800.3" y1="312.8" x2="803.3" y2="312.8" stroke="#cfcfcf" stroke-width="1"/>
<line x1="800.3" y1="289.7" x2="803.3" y2="289.7" stroke="#cfcfcf" stroke-width="1"/>
<line x1="800.3" y1="266.9" x2="803.3" y2="266.9" stroke="#cfcfcf" stroke-width="1"/>
<line x1="800.3" y1="244.3" x2="803.3" y2="244.3" stroke="#cfcfcf" stroke-width="1"/>
<line x1="800.3" y1="221.8" x2="803.3" y2="221.8" stroke="#cfcfcf" stroke-width="1"/>
<line x1="800.3" y1="199.6" x2="803.3" y2="199.6" stroke="#cfcfcf" stroke-width="1"/>
<line x1="800.3" y1="177.5" x2="803.3" y2="177.5" stroke="#cfcfcf" stroke-width="1"/>
<line x1="800.3" y1="510.0" x2="801.9" y2="510.0" stroke="#cfcfcf" stroke-width="1"/>
<line x1="800.3" y1="505.0" x2="801.9" y2="505.0" stroke="#cfcfcf" stroke-width="1"/>
<line x1="800.3" y1="500.0" x2="801.9" y2="500.0" stroke="#cfcfcf" stroke-width="1"/>
<line x1="800.3" y1="495.1" x2="801.9" y2="495.1" stroke="#cfcfcf" stroke-width="1"/>
<line x1="800.3" y1="490.1" x2="801.9" y2="490.1" stroke="#cfcfcf" stroke-width="1"/>
<line x1="800.3" y1="485.1" x2="801.9" y2="485.1" stroke="#cfcfcf" stroke-width="1"/>
<line x1="800.3" y1="480.2" x2="801.9" y2="480.2" stroke="#cfcfcf" stroke-width="1"/>
<line x1="800.3" y1="475.3" x2="801.9" y2="475.3" stroke="#cfcfcf" stroke-width="1"/>
<line x1="800.3" y1="470.3" x2="801.9" y2="470.3" stroke="#cfcfcf" stroke-width="1"/>
<line x1="800.3" y1="465.4" x2="801.9" y2="465.4" stroke="#cfcfcf" stroke-width="1"/>
<line x1="800.3" y1="460.5" x2="801.9" y2="460.5" stroke="#cfcfcf" stroke-width="1"/>
<line x1="800.3" y1="455.6" x2="801.9" y2="455.6" stroke="#cfcfcf" stroke-width="1"/>
<line x1="800.3" y1="450.7" x2="801.9" y2="450.7" stroke="#cfcfcf" stroke-width="1"/>
<line x1="800.3" y1="445.8" x2="801.9" y2="445.8" stroke="#cfcfcf" stroke-width="1"/>
<line x1="800.3" y1="441.0" x2="801.9" y2="441.0" stroke="#cfcfcf" stroke-width="1"/>
<line x1="800.3" y1="436.1" x2="801.9" y2="436.1" stroke="#cfcfcf" stroke-width="1"/>
<line x1="800.3" y1="431.2" x2="801.9" y2="431.2" stroke="#cfcfcf" stroke-width="1"/>
<line x1="800.3" y1="426.4" x2="801.9" y2="426.4" stroke="#cfcfcf" stroke-width="1"/>
<line x1="800.3" y1="421.6" x2="801.9" y2="421.6" stroke="#cfcfcf" stroke-width="1"/>
<line x1="800.3" y1="416.7" x2="801.9" y2="416.7" stroke="#cfcfcf" stroke-width="1"/>
<line x1="800.3" y1="411.9" x2="801.9" y2="411.9" stroke="#cfcfcf" stroke-width="1"/>
<line x1="800.3" y1="407.1" x2="801.9" y2="407.1" stroke="#cfcfcf" stroke-width="1"/>
<line x1="800.3" y1="402.3" x2="801.9" y2="402.3" stroke="#cfcfcf" stroke-width="1"/>
<line x1="800.3" y1="397.5" x2="801.9" y2="397.5" stroke="#cfcfcf" stroke-width="1"/>
<line x1="800.3" y1="392.7" x2="801.9" y2="392.7" stroke="#cfcfcf" stroke-width="1"/>
<line x1="800.3" y1="388.0" x2="801.9" y2="388.0" stroke="#cfcfcf" stroke-width="1"/>
<line x1="800.3" y1="383.2" x2="801.9" y2="383.2" stroke="#cfcfcf" stroke-width="1"/>
<line x1="800.3" y1="378.5" x2="801.9" y2="378.5" stroke="#cfcfcf" stroke-width="1"/>
<line x1="800.3" y1="373.7" x2="801.9" y2="373.7" stroke="#cfcfcf" stroke-width="1"/>
<line x1="800.3" y1="369.0" x2="801.9" y2="369.0" stroke="#cfcfcf" stroke-width="1"/>
<line x1="800.3" y1="364.2" x2="801.9" y2="364.2" stroke="#cfcfcf" stroke-width="1"/>
<line x1="800.3" y1="359.5" x2="801.9" y2="359.5" stroke="#cfcfcf" stroke-width="1"/>
<line x1="800.3" y1="354.8" x2="801.9" y2="354.8" stroke="#cfcfcf" stroke-width="1"/>
<line x1="800.3" y1="350.1" x2="801.9" y2="350.1" stroke="#cfcfcf" stroke-width="1"/>
<line x1="800.3" y1="345.4" x2="801.9" y2="345.4" stroke="#cfcfcf" stroke-width="1"/>
<line x1="800.3" y1="340.7" x2="801.9" y2="340.7" stroke="#cfcfcf" stroke-width="1"/>
<line x1="800.3" y1="336.1" x2="801.9" y2="336.1" stroke="#cfcfcf" stroke-width="1"/>
<line x1="800.3" y1="331.4" x2="801.9" y2="331.4" stroke="#cfcfcf" stroke-width="1"/>
<line x1="800.3" y1="326.7" x2="801.9" y2="326.7" stroke="#cfcfcf" stroke-width="1"/>
<line x1="800.3" y1="322.1" x2="801.9" y2="322.1" stroke="#cfcfcf" stroke-width="1"/>
<line x1="800.3" y1="317.4" x2="801.9" y2="317.4" stroke="#cfcfcf" stroke-width="1"/>
<line x1="800.3" y1="312.8" x2="801.9" y2="312.8" stroke="#cfcfcf" stroke-width="1"/>
<line x1="800.3" y1="308.2" x2="801.9" y2="308.2" stroke="#cfcfcf" stroke-width="1"/>
<line x1="800.3" y1="303.5" x2="801.9" y2="303.5" stroke="#cfcfcf" stroke-width="1"/>
<line x1="800.3" y1="298.9" x2="801.9" y2="298.9" stroke="#cfcfcf" stroke-width="1"/>
<line x1="800.3" y1="294.3" x2="801.9" y2="294.3" stroke="#cfcfcf" stroke-width="1"/>
<line x1="800.3" y1="289.7" x2="801.9" y2="289.7" stroke="#cfcfcf" stroke-width="1"/>
<line x1="800.3" y1="285.2" x2="801.9" y2="285.2" stroke="#cfcfcf" stroke-width="1"/>
<line x1="800.3" y1="280.6" x2="801.9" y2="280.6" stroke="#cfcfcf" stroke-width="1"/>
<line x1="800.3" y1="276.0" x2="801.9" y2="276.0" stroke="#cfcfcf" stroke-width="1"/>
<line x1="800.3" y1="271.5" x2="801.9" y2="271.5" stroke="#cfcfcf" stroke-width="1"/>
<line x1="800.3" y1="266.9" x2="801.9" y2="266.9" stroke="#cfcfcf" stroke-width="1"/>
<line x1="800.3" y1="262.4" x2="801.9" y2="262.4" stroke="#cfcfcf" stroke-width="1"/>
<line x1="800.3" y1="257.8" x2="801.9" y2="257.8" stroke="#cfcfcf" stroke-width="1"/>
<line x1="800.3" y1="253.3" x2="801.9" y2="253.3" stroke="#cfcfcf" stroke-width="1"/>
<line x1="800.3" y1="248.8" x2="801.9" y2="248.8" stroke="#cfcfcf" stroke-width="1"/>
<line x1="800.3" y1="244.3" x2="801.9" y2="244.3" stroke="#cfcfcf" stroke-width="1"/>
<line x1="800.3" y1="239.8" x2="801.9" y2="239.8" stroke="#cfcfcf" stroke-width="1"/>
<line x1="800.3" y1="235.3" x2="801.9" y2="235.3" stroke="#cfcfcf" stroke-width="1"/>
<line x1="800.3" y1="230.8" x2="801.9" y2="230.8" stroke="#cfcfcf" stroke-width="1"/>
<line x1="800.3" y1="226.3" x2="801.9" y2="226.3" stroke="#cfcfcf" stroke-width="1"/>
<line x1="800.3" y1="221.8" x2="801.9" y2="221.8" stroke="#cfcfcf" stroke-width="1"/>
<line x1="800.3" y1="217.3" x2="801.9" y2="217.3" stroke="#cfcfcf" stroke-width="1"/>
<line x1="800.3" y1="212.9" x2="801.9" y2="212.9" stroke="#cfcfcf" stroke-width="1"/>
<line x1="800.3" y1="208.4" x2="801.9" y2="208.4" stroke="#cfcfcf" stroke-width="1"/>
<line x1="800.3" y1="204.0" x2="801.9" y2="204.0" stroke="#cfcfcf" stroke-width="1"/>
<line x1="800.3" y1="199.6" x2="801.9" y2="199.6" stroke="#cfcfcf" stroke-width="1"/>
<line x1="800.3" y1="195.1" x2="801.9" y2="195.1" stroke="#cfcfcf" stroke-width="1"/>
<line x1="800.3" y1="190.7" x2="801.9" y2="190.7" stroke="#cfcfcf" stroke-width="1"/>
<line x1="800.3" y1="186.3" x2="801.9" y2="186.3" stroke="#cfcfcf" stroke-width="1"/>
<line x1="800.3" y1="181.9" x2="801.9" y2="181.9" stroke="#cfcfcf" stroke-width="1"/>
<line x1="800.3" y1="177.5" x2="801.9" y2="177.5" stroke="#cfcfcf" stroke-width="1"/>
<line x1="800.3" y1="173.1" x2="801.9" y2="173.1" stroke="#cfcfcf" stroke-width="1"/>
<text x="805.0" y="506.8" font-family='"Liberation Sans", Arial, sans-serif' font-size="11.8" fill="#000" stroke="#000" stroke-width="0.2" textLength="36.2" lengthAdjust="spacingAndGlyphs">10300</text>
<text x="805.0" y="482.1" font-family='"Liberation Sans", Arial, sans-serif' font-size="11.8" fill="#000" stroke="#000" stroke-width="0.2" textLength="36.2" lengthAdjust="spacingAndGlyphs">10400</text>
<text x="805.0" y="457.6" font-family='"Liberation Sans", Arial, sans-serif' font-size="11.8" fill="#000" stroke="#000" stroke-width="0.2" textLength="36.2" lengthAdjust="spacingAndGlyphs">10500</text>
<text x="805.0" y="433.4" font-family='"Liberation Sans", Arial, sans-serif' font-size="11.8" fill="#000" stroke="#000" stroke-width="0.2" textLength="36.2" lengthAdjust="spacingAndGlyphs">10600</text>
<text x="805.0" y="409.3" font-family='"Liberation Sans", Arial, sans-serif' font-size="11.8" fill="#000" stroke="#000" stroke-width="0.2" textLength="36.2" lengthAdjust="spacingAndGlyphs">10700</text>
<text x="805.0" y="385.5" font-family='"Liberation Sans", Arial, sans-serif' font-size="11.8" fill="#000" stroke="#000" stroke-width="0.2" textLength="36.2" lengthAdjust="spacingAndGlyphs">10800</text>
<text x="805.0" y="361.9" font-family='"Liberation Sans", Arial, sans-serif' font-size="11.8" fill="#000" stroke="#000" stroke-width="0.2" textLength="36.2" lengthAdjust="spacingAndGlyphs">10900</text>
<text x="805.0" y="338.6" font-family='"Liberation Sans", Arial, sans-serif' font-size="11.8" fill="#000" stroke="#000" stroke-width="0.2" textLength="36.2" lengthAdjust="spacingAndGlyphs">11000</text>
<text x="805.0" y="315.4" font-family='"Liberation Sans", Arial, sans-serif' font-size="11.8" fill="#000" stroke="#000" stroke-width="0.2" textLength="36.2" lengthAdjust="spacingAndGlyphs">11100</text>
<text x="805.0" y="292.5" font-family='"Liberation Sans", Arial, sans-serif' font-size="11.8" fill="#000" stroke="#000" stroke-width="0.2" textLength="36.2" lengthAdjust="spacingAndGlyphs">11200</text>
<text x="805.0" y="269.7" font-family='"Liberation Sans", Arial, sans-serif' font-size="11.8" fill="#000" stroke="#000" stroke-width="0.2" textLength="36.2" lengthAdjust="spacingAndGlyphs">11300</text>
<text x="805.0" y="247.2" font-family='"Liberation Sans", Arial, sans-serif' font-size="11.8" fill="#000" stroke="#000" stroke-width="0.2" textLength="36.2" lengthAdjust="spacingAndGlyphs">11400</text>
<text x="805.0" y="224.8" font-family='"Liberation Sans", Arial, sans-serif' font-size="11.8" fill="#000" stroke="#000" stroke-width="0.2" textLength="36.2" lengthAdjust="spacingAndGlyphs">11500</text>
<text x="805.0" y="202.7" font-family='"Liberation Sans", Arial, sans-serif' font-size="11.8" fill="#000" stroke="#000" stroke-width="0.2" textLength="36.2" lengthAdjust="spacingAndGlyphs">11600</text>
<text x="805.0" y="180.7" font-family='"Liberation Sans", Arial, sans-serif' font-size="11.8" fill="#000" stroke="#000" stroke-width="0.2" textLength="36.2" lengthAdjust="spacingAndGlyphs">11700</text>
<polygon points="797.3,287.8 801.6,280.7 862.0,280.7 862.0,294.9 801.6,294.9" fill="#fff" stroke="#111" stroke-width="1.3" stroke-linejoin="miter"/>
<text x="803.4" y="292.7" font-family='"Liberation Sans", Arial, sans-serif' font-size="13.6" fill="#000" stroke="#000" stroke-width="0.3" font-weight="bold" textLength="56.5" lengthAdjust="spacingAndGlyphs">11205.54</text>
<polygon points="797.3,323.3 801.6,316.8 862.0,316.8 862.0,329.8 801.6,329.8" fill="#fff" stroke="#2222a0" stroke-width="1.4" stroke-linejoin="miter"/>
<text x="803.4" y="327.7" font-family='"Liberation Sans", Arial, sans-serif' font-size="12.2" fill="#000" stroke="#000" stroke-width="0.2" textLength="56.5" lengthAdjust="spacingAndGlyphs">11051.64</text>
<line x1="13.7" y1="517.6" x2="13.7" y2="520.1" stroke="#cfcfcf" stroke-width="1"/>
<line x1="26.4" y1="517.6" x2="26.4" y2="520.1" stroke="#cfcfcf" stroke-width="1"/>
<line x1="39.1" y1="517.6" x2="39.1" y2="520.1" stroke="#cfcfcf" stroke-width="1"/>
<line x1="51.8" y1="517.6" x2="51.8" y2="520.1" stroke="#cfcfcf" stroke-width="1"/>
<line x1="64.6" y1="517.6" x2="64.6" y2="520.1" stroke="#cfcfcf" stroke-width="1"/>
<line x1="77.3" y1="517.6" x2="77.3" y2="520.1" stroke="#cfcfcf" stroke-width="1"/>
<line x1="90.0" y1="517.6" x2="90.0" y2="520.1" stroke="#cfcfcf" stroke-width="1"/>
<line x1="102.7" y1="517.6" x2="102.7" y2="520.1" stroke="#cfcfcf" stroke-width="1"/>
<line x1="115.4" y1="517.6" x2="115.4" y2="520.1" stroke="#cfcfcf" stroke-width="1"/>
<line x1="128.2" y1="517.6" x2="128.2" y2="520.1" stroke="#cfcfcf" stroke-width="1"/>
<line x1="140.9" y1="517.6" x2="140.9" y2="520.1" stroke="#cfcfcf" stroke-width="1"/>
<line x1="153.6" y1="517.6" x2="153.6" y2="520.1" stroke="#cfcfcf" stroke-width="1"/>
<line x1="166.3" y1="517.6" x2="166.3" y2="520.1" stroke="#cfcfcf" stroke-width="1"/>
<line x1="179.0" y1="517.6" x2="179.0" y2="520.1" stroke="#cfcfcf" stroke-width="1"/>
<line x1="191.8" y1="517.6" x2="191.8" y2="520.1" stroke="#cfcfcf" stroke-width="1"/>
<line x1="204.5" y1="517.6" x2="204.5" y2="520.1" stroke="#cfcfcf" stroke-width="1"/>
<line x1="217.2" y1="517.6" x2="217.2" y2="520.1" stroke="#cfcfcf" stroke-width="1"/>
<line x1="229.9" y1="517.6" x2="229.9" y2="520.1" stroke="#cfcfcf" stroke-width="1"/>
<line x1="242.6" y1="517.6" x2="242.6" y2="520.1" stroke="#cfcfcf" stroke-width="1"/>
<line x1="255.4" y1="517.6" x2="255.4" y2="520.1" stroke="#cfcfcf" stroke-width="1"/>
<line x1="268.1" y1="517.6" x2="268.1" y2="520.1" stroke="#cfcfcf" stroke-width="1"/>
<line x1="280.8" y1="517.6" x2="280.8" y2="520.1" stroke="#cfcfcf" stroke-width="1"/>
<line x1="293.5" y1="517.6" x2="293.5" y2="520.1" stroke="#cfcfcf" stroke-width="1"/>
<line x1="306.2" y1="517.6" x2="306.2" y2="520.1" stroke="#cfcfcf" stroke-width="1"/>
<line x1="319.0" y1="517.6" x2="319.0" y2="520.1" stroke="#cfcfcf" stroke-width="1"/>
<line x1="331.7" y1="517.6" x2="331.7" y2="520.1" stroke="#cfcfcf" stroke-width="1"/>
<line x1="344.4" y1="517.6" x2="344.4" y2="520.1" stroke="#cfcfcf" stroke-width="1"/>
<line x1="357.1" y1="517.6" x2="357.1" y2="520.1" stroke="#cfcfcf" stroke-width="1"/>
<line x1="369.8" y1="517.6" x2="369.8" y2="520.1" stroke="#cfcfcf" stroke-width="1"/>
<line x1="382.6" y1="517.6" x2="382.6" y2="520.1" stroke="#cfcfcf" stroke-width="1"/>
<line x1="395.3" y1="517.6" x2="395.3" y2="520.1" stroke="#cfcfcf" stroke-width="1"/>
<line x1="408.0" y1="517.6" x2="408.0" y2="520.1" stroke="#cfcfcf" stroke-width="1"/>
<line x1="420.7" y1="517.6" x2="420.7" y2="520.1" stroke="#cfcfcf" stroke-width="1"/>
<line x1="433.4" y1="517.6" x2="433.4" y2="520.1" stroke="#cfcfcf" stroke-width="1"/>
<line x1="446.2" y1="517.6" x2="446.2" y2="520.1" stroke="#cfcfcf" stroke-width="1"/>
<line x1="458.9" y1="517.6" x2="458.9" y2="520.1" stroke="#cfcfcf" stroke-width="1"/>
<line x1="471.6" y1="517.6" x2="471.6" y2="520.1" stroke="#cfcfcf" stroke-width="1"/>
<line x1="484.3" y1="517.6" x2="484.3" y2="520.1" stroke="#cfcfcf" stroke-width="1"/>
<line x1="497.0" y1="517.6" x2="497.0" y2="520.1" stroke="#cfcfcf" stroke-width="1"/>
<line x1="509.8" y1="517.6" x2="509.8" y2="520.1" stroke="#cfcfcf" stroke-width="1"/>
<line x1="522.5" y1="517.6" x2="522.5" y2="520.1" stroke="#cfcfcf" stroke-width="1"/>
<line x1="535.2" y1="517.6" x2="535.2" y2="520.1" stroke="#cfcfcf" stroke-width="1"/>
<line x1="547.9" y1="517.6" x2="547.9" y2="520.1" stroke="#cfcfcf" stroke-width="1"/>
<line x1="560.6" y1="517.6" x2="560.6" y2="520.1" stroke="#cfcfcf" stroke-width="1"/>
<line x1="573.4" y1="517.6" x2="573.4" y2="520.1" stroke="#cfcfcf" stroke-width="1"/>
<line x1="586.1" y1="517.6" x2="586.1" y2="520.1" stroke="#cfcfcf" stroke-width="1"/>
<line x1="598.8" y1="517.6" x2="598.8" y2="520.1" stroke="#cfcfcf" stroke-width="1"/>
<line x1="611.5" y1="517.6" x2="611.5" y2="520.1" stroke="#cfcfcf" stroke-width="1"/>
<line x1="624.2" y1="517.6" x2="624.2" y2="520.1" stroke="#cfcfcf" stroke-width="1"/>
<line x1="637.0" y1="517.6" x2="637.0" y2="520.1" stroke="#cfcfcf" stroke-width="1"/>
<line x1="649.7" y1="517.6" x2="649.7" y2="520.1" stroke="#cfcfcf" stroke-width="1"/>
<line x1="662.4" y1="517.6" x2="662.4" y2="520.1" stroke="#cfcfcf" stroke-width="1"/>
<line x1="675.1" y1="517.6" x2="675.1" y2="520.1" stroke="#cfcfcf" stroke-width="1"/>
<line x1="687.8" y1="517.6" x2="687.8" y2="520.1" stroke="#cfcfcf" stroke-width="1"/>
<line x1="700.6" y1="517.6" x2="700.6" y2="520.1" stroke="#cfcfcf" stroke-width="1"/>
<line x1="713.3" y1="517.6" x2="713.3" y2="520.1" stroke="#cfcfcf" stroke-width="1"/>
<line x1="726.0" y1="517.6" x2="726.0" y2="520.1" stroke="#cfcfcf" stroke-width="1"/>
<line x1="738.7" y1="517.6" x2="738.7" y2="520.1" stroke="#cfcfcf" stroke-width="1"/>
<line x1="751.4" y1="517.6" x2="751.4" y2="520.1" stroke="#cfcfcf" stroke-width="1"/>
<line x1="764.2" y1="517.6" x2="764.2" y2="520.1" stroke="#cfcfcf" stroke-width="1"/>
<line x1="776.9" y1="517.6" x2="776.9" y2="520.1" stroke="#cfcfcf" stroke-width="1"/>
<line x1="789.6" y1="517.6" x2="789.6" y2="520.1" stroke="#cfcfcf" stroke-width="1"/>
<text x="18.6" y="531.4" font-family='"Liberation Sans", Arial, sans-serif' font-size="11.7" fill="#000" stroke="#000" stroke-width="0.2" textLength="14.6" lengthAdjust="spacingAndGlyphs">22</text>
<text x="82.2" y="531.4" font-family='"Liberation Sans", Arial, sans-serif' font-size="11.7" fill="#000" stroke="#000" stroke-width="0.2" textLength="14.6" lengthAdjust="spacingAndGlyphs">29</text>
<text x="115.9" y="530.9" font-family='"Liberation Sans", Arial, sans-serif' font-size="13.8" fill="#000" stroke="#000" stroke-width="0.35" font-weight="bold" textLength="26.2" lengthAdjust="spacingAndGlyphs">Nov</text>
<text x="150.4" y="531.4" font-family='"Liberation Sans", Arial, sans-serif' font-size="11.7" fill="#000" stroke="#000" stroke-width="0.2" textLength="7.0" lengthAdjust="spacingAndGlyphs">5</text>
<text x="209.4" y="531.4" font-family='"Liberation Sans", Arial, sans-serif' font-size="11.7" fill="#000" stroke="#000" stroke-width="0.2" textLength="14.6" lengthAdjust="spacingAndGlyphs">12</text>
<text x="273.0" y="531.4" font-family='"Liberation Sans", Arial, sans-serif' font-size="11.7" fill="#000" stroke="#000" stroke-width="0.2" textLength="14.6" lengthAdjust="spacingAndGlyphs">19</text>
<text x="322.5" y="531.4" font-family='"Liberation Sans", Arial, sans-serif' font-size="11.7" fill="#000" stroke="#000" stroke-width="0.2" textLength="14.6" lengthAdjust="spacingAndGlyphs">26</text>
<text x="382.1" y="530.9" font-family='"Liberation Sans", Arial, sans-serif' font-size="13.8" fill="#000" stroke="#000" stroke-width="0.35" font-weight="bold" textLength="26.6" lengthAdjust="spacingAndGlyphs">Dec</text>
<text x="438.4" y="531.4" font-family='"Liberation Sans", Arial, sans-serif' font-size="11.7" fill="#000" stroke="#000" stroke-width="0.2" textLength="14.6" lengthAdjust="spacingAndGlyphs">10</text>
<text x="502.0" y="531.4" font-family='"Liberation Sans", Arial, sans-serif' font-size="11.7" fill="#000" stroke="#000" stroke-width="0.2" textLength="14.6" lengthAdjust="spacingAndGlyphs">17</text>
<text x="565.6" y="531.4" font-family='"Liberation Sans", Arial, sans-serif' font-size="11.7" fill="#000" stroke="#000" stroke-width="0.2" textLength="14.6" lengthAdjust="spacingAndGlyphs">24</text>
<text x="621.8" y="530.9" font-family='"Liberation Sans", Arial, sans-serif' font-size="13.8" fill="#000" stroke="#000" stroke-width="0.35" font-weight="bold" textLength="29.3" lengthAdjust="spacingAndGlyphs">2019</text>
<text x="671.9" y="531.4" font-family='"Liberation Sans", Arial, sans-serif' font-size="11.7" fill="#000" stroke="#000" stroke-width="0.2" textLength="7.0" lengthAdjust="spacingAndGlyphs">7</text>
<text x="730.9" y="531.4" font-family='"Liberation Sans", Arial, sans-serif' font-size="11.7" fill="#000" stroke="#000" stroke-width="0.2" textLength="14.6" lengthAdjust="spacingAndGlyphs">14</text>
<line x1="26.4" y1="532.9" x2="26.4" y2="535.4" stroke="#cfcfcf" stroke-width="1"/>
<line x1="39.1" y1="532.9" x2="39.1" y2="535.4" stroke="#cfcfcf" stroke-width="1"/>
<line x1="51.8" y1="532.9" x2="51.8" y2="535.4" stroke="#cfcfcf" stroke-width="1"/>
<line x1="64.6" y1="532.9" x2="64.6" y2="535.4" stroke="#cfcfcf" stroke-width="1"/>
<line x1="77.3" y1="532.9" x2="77.3" y2="535.4" stroke="#cfcfcf" stroke-width="1"/>
<line x1="90.0" y1="532.9" x2="90.0" y2="535.4" stroke="#cfcfcf" stroke-width="1"/>
<line x1="102.7" y1="532.9" x2="102.7" y2="535.4" stroke="#cfcfcf" stroke-width="1"/>
<line x1="115.4" y1="532.9" x2="115.4" y2="535.4" stroke="#cfcfcf" stroke-width="1"/>
<line x1="128.2" y1="532.9" x2="128.2" y2="535.4" stroke="#cfcfcf" stroke-width="1"/>
<line x1="140.9" y1="532.9" x2="140.9" y2="535.4" stroke="#cfcfcf" stroke-width="1"/>
<line x1="153.6" y1="532.9" x2="153.6" y2="535.4" stroke="#cfcfcf" stroke-width="1"/>
<line x1="166.3" y1="532.9" x2="166.3" y2="535.4" stroke="#cfcfcf" stroke-width="1"/>
<line x1="179.0" y1="532.9" x2="179.0" y2="535.4" stroke="#cfcfcf" stroke-width="1"/>
<line x1="191.8" y1="532.9" x2="191.8" y2="535.4" stroke="#cfcfcf" stroke-width="1"/>
<line x1="204.5" y1="532.9" x2="204.5" y2="535.4" stroke="#cfcfcf" stroke-width="1"/>
<line x1="217.2" y1="532.9" x2="217.2" y2="535.4" stroke="#cfcfcf" stroke-width="1"/>
<line x1="229.9" y1="532.9" x2="229.9" y2="535.4" stroke="#cfcfcf" stroke-width="1"/>
<line x1="242.6" y1="532.9" x2="242.6" y2="535.4" stroke="#cfcfcf" stroke-width="1"/>
<line x1="255.4" y1="532.9" x2="255.4" y2="535.4" stroke="#cfcfcf" stroke-width="1"/>
<line x1="268.1" y1="532.9" x2="268.1" y2="535.4" stroke="#cfcfcf" stroke-width="1"/>
<line x1="280.8" y1="532.9" x2="280.8" y2="535.4" stroke="#cfcfcf" stroke-width="1"/>
<line x1="293.5" y1="532.9" x2="293.5" y2="535.4" stroke="#cfcfcf" stroke-width="1"/>
<line x1="306.2" y1="532.9" x2="306.2" y2="535.4" stroke="#cfcfcf" stroke-width="1"/>
<line x1="319.0" y1="532.9" x2="319.0" y2="535.4" stroke="#cfcfcf" stroke-width="1"/>
<line x1="331.7" y1="532.9" x2="331.7" y2="535.4" stroke="#cfcfcf" stroke-width="1"/>
<line x1="344.4" y1="532.9" x2="344.4" y2="535.4" stroke="#cfcfcf" stroke-width="1"/>
<line x1="357.1" y1="532.9" x2="357.1" y2="535.4" stroke="#cfcfcf" stroke-width="1"/>
<line x1="369.8" y1="532.9" x2="369.8" y2="535.4" stroke="#cfcfcf" stroke-width="1"/>
<line x1="382.6" y1="532.9" x2="382.6" y2="535.4" stroke="#cfcfcf" stroke-width="1"/>
<line x1="395.3" y1="532.9" x2="395.3" y2="535.4" stroke="#cfcfcf" stroke-width="1"/>
<line x1="408.0" y1="532.9" x2="408.0" y2="535.4" stroke="#cfcfcf" stroke-width="1"/>
<line x1="420.7" y1="532.9" x2="420.7" y2="535.4" stroke="#cfcfcf" stroke-width="1"/>
<line x1="433.4" y1="532.9" x2="433.4" y2="535.4" stroke="#cfcfcf" stroke-width="1"/>
<line x1="446.2" y1="532.9" x2="446.2" y2="535.4" stroke="#cfcfcf" stroke-width="1"/>
<line x1="458.9" y1="532.9" x2="458.9" y2="535.4" stroke="#cfcfcf" stroke-width="1"/>
<line x1="471.6" y1="532.9" x2="471.6" y2="535.4" stroke="#cfcfcf" stroke-width="1"/>
<line x1="484.3" y1="532.9" x2="484.3" y2="535.4" stroke="#cfcfcf" stroke-width="1"/>
<line x1="497.0" y1="532.9" x2="497.0" y2="535.4" stroke="#cfcfcf" stroke-width="1"/>
<line x1="509.8" y1="532.9" x2="509.8" y2="535.4" stroke="#cfcfcf" stroke-width="1"/>
<line x1="522.5" y1="532.9" x2="522.5" y2="535.4" stroke="#cfcfcf" stroke-width="1"/>
<line x1="535.2" y1="532.9" x2="535.2" y2="535.4" stroke="#cfcfcf" stroke-width="1"/>
<line x1="547.9" y1="532.9" x2="547.9" y2="535.4" stroke="#cfcfcf" stroke-width="1"/>
<line x1="560.6" y1="532.9" x2="560.6" y2="535.4" stroke="#cfcfcf" stroke-width="1"/>
<line x1="573.4" y1="532.9" x2="573.4" y2="535.4" stroke="#cfcfcf" stroke-width="1"/>
<line x1="586.1" y1="532.9" x2="586.1" y2="535.4" stroke="#cfcfcf" stroke-width="1"/>
<line x1="598.8" y1="532.9" x2="598.8" y2="535.4" stroke="#cfcfcf" stroke-width="1"/>
<line x1="611.5" y1="532.9" x2="611.5" y2="535.4" stroke="#cfcfcf" stroke-width="1"/>
<line x1="624.2" y1="532.9" x2="624.2" y2="535.4" stroke="#cfcfcf" stroke-width="1"/>
<line x1="637.0" y1="532.9" x2="637.0" y2="535.4" stroke="#cfcfcf" stroke-width="1"/>
<line x1="649.7" y1="532.9" x2="649.7" y2="535.4" stroke="#cfcfcf" stroke-width="1"/>
<line x1="662.4" y1="532.9" x2="662.4" y2="535.4" stroke="#cfcfcf" stroke-width="1"/>
<line x1="675.1" y1="532.9" x2="675.1" y2="535.4" stroke="#cfcfcf" stroke-width="1"/>
<line x1="687.8" y1="532.9" x2="687.8" y2="535.4" stroke="#cfcfcf" stroke-width="1"/>
<line x1="700.6" y1="532.9" x2="700.6" y2="535.4" stroke="#cfcfcf" stroke-width="1"/>
<line x1="713.3" y1="532.9" x2="713.3" y2="535.4" stroke="#cfcfcf" stroke-width="1"/>
<line x1="726.0" y1="532.9" x2="726.0" y2="535.4" stroke="#cfcfcf" stroke-width="1"/>
<line x1="738.7" y1="532.9" x2="738.7" y2="535.4" stroke="#cfcfcf" stroke-width="1"/>
<line x1="751.4" y1="532.9" x2="751.4" y2="535.4" stroke="#cfcfcf" stroke-width="1"/>
<line x1="764.2" y1="532.9" x2="764.2" y2="535.4" stroke="#cfcfcf" stroke-width="1"/>
<line x1="776.9" y1="532.9" x2="776.9" y2="535.4" stroke="#cfcfcf" stroke-width="1"/>
<line x1="789.6" y1="532.9" x2="789.6" y2="535.4" stroke="#cfcfcf" stroke-width="1"/>
<line x1="13.7" y1="656.2" x2="13.7" y2="658.7" stroke="#cfcfcf" stroke-width="1"/>
<line x1="26.4" y1="656.2" x2="26.4" y2="658.7" stroke="#cfcfcf" stroke-width="1"/>
<line x1="39.1" y1="656.2" x2="39.1" y2="658.7" stroke="#cfcfcf" stroke-width="1"/>
<line x1="51.8" y1="656.2" x2="51.8" y2="658.7" stroke="#cfcfcf" stroke-width="1"/>
<line x1="64.6" y1="656.2" x2="64.6" y2="658.7" stroke="#cfcfcf" stroke-width="1"/>
<line x1="77.3" y1="656.2" x2="77.3" y2="658.7" stroke="#cfcfcf" stroke-width="1"/>
<line x1="90.0" y1="656.2" x2="90.0" y2="658.7" stroke="#cfcfcf" stroke-width="1"/>
<line x1="102.7" y1="656.2" x2="102.7" y2="658.7" stroke="#cfcfcf" stroke-width="1"/>
<line x1="115.4" y1="656.2" x2="115.4" y2="658.7" stroke="#cfcfcf" stroke-width="1"/>
<line x1="128.2" y1="656.2" x2="128.2" y2="658.7" stroke="#cfcfcf" stroke-width="1"/>
<line x1="140.9" y1="656.2" x2="140.9" y2="658.7" stroke="#cfcfcf" stroke-width="1"/>
<line x1="153.6" y1="656.2" x2="153.6" y2="658.7" stroke="#cfcfcf" stroke-width="1"/>
<line x1="166.3" y1="656.2" x2="166.3" y2="658.7" stroke="#cfcfcf" stroke-width="1"/>
<line x1="179.0" y1="656.2" x2="179.0" y2="658.7" stroke="#cfcfcf" stroke-width="1"/>
<line x1="191.8" y1="656.2" x2="191.8" y2="658.7" stroke="#cfcfcf" stroke-width="1"/>
<line x1="204.5" y1="656.2" x2="204.5" y2="658.7" stroke="#cfcfcf" stroke-width="1"/>
<line x1="217.2" y1="656.2" x2="217.2" y2="658.7" stroke="#cfcfcf" stroke-width="1"/>
<line x1="229.9" y1="656.2" x2="229.9" y2="658.7" stroke="#cfcfcf" stroke-width="1"/>
<line x1="242.6" y1="656.2" x2="242.6" y2="658.7" stroke="#cfcfcf" stroke-width="1"/>
<line x1="255.4" y1="656.2" x2="255.4" y2="658.7" stroke="#cfcfcf" stroke-width="1"/>
<line x1="268.1" y1="656.2" x2="268.1" y2="658.7" stroke="#cfcfcf" stroke-width="1"/>
<line x1="280.8" y1="656.2" x2="280.8" y2="658.7" stroke="#cfcfcf" stroke-width="1"/>
<line x1="293.5" y1="656.2" x2="293.5" y2="658.7" stroke="#cfcfcf" stroke-width="1"/>
<line x1="306.2" y1="656.2" x2="306.2" y2="658.7" stroke="#cfcfcf" stroke-width="1"/>
<line x1="319.0" y1="656.2" x2="319.0" y2="658.7" stroke="#cfcfcf" stroke-width="1"/>
<line x1="331.7" y1="656.2" x2="331.7" y2="658.7" stroke="#cfcfcf" stroke-width="1"/>
<line x1="344.4" y1="656.2" x2="344.4" y2="658.7" stroke="#cfcfcf" stroke-width="1"/>
<line x1="357.1" y1="656.2" x2="357.1" y2="658.7" stroke="#cfcfcf" stroke-width="1"/>
<line x1="369.8" y1="656.2" x2="369.8" y2="658.7" stroke="#cfcfcf" stroke-width="1"/>
<line x1="382.6" y1="656.2" x2="382.6" y2="658.7" stroke="#cfcfcf" stroke-width="1"/>
<line x1="395.3" y1="656.2" x2="395.3" y2="658.7" stroke="#cfcfcf" stroke-width="1"/>
<line x1="408.0" y1="656.2" x2="408.0" y2="658.7" stroke="#cfcfcf" stroke-width="1"/>
<line x1="420.7" y1="656.2" x2="420.7" y2="658.7" stroke="#cfcfcf" stroke-width="1"/>
<line x1="433.4" y1="656.2" x2="433.4" y2="658.7" stroke="#cfcfcf" stroke-width="1"/>
<line x1="446.2" y1="656.2" x2="446.2" y2="658.7" stroke="#cfcfcf" stroke-width="1"/>
<line x1="458.9" y1="656.2" x2="458.9" y2="658.7" stroke="#cfcfcf" stroke-width="1"/>
<line x1="471.6" y1="656.2" x2="471.6" y2="658.7" stroke="#cfcfcf" stroke-width="1"/>
<line x1="484.3" y1="656.2" x2="484.3" y2="658.7" stroke="#cfcfcf" stroke-width="1"/>
<line x1="497.0" y1="656.2" x2="497.0" y2="658.7" stroke="#cfcfcf" stroke-width="1"/>
<line x1="509.8" y1="656.2" x2="509.8" y2="658.7" stroke="#cfcfcf" stroke-width="1"/>
<line x1="522.5" y1="656.2" x2="522.5" y2="658.7" stroke="#cfcfcf" stroke-width="1"/>
<line x1="535.2" y1="656.2" x2="535.2" y2="658.7" stroke="#cfcfcf" stroke-width="1"/>
<line x1="547.9" y1="656.2" x2="547.9" y2="658.7" stroke="#cfcfcf" stroke-width="1"/>
<line x1="560.6" y1="656.2" x2="560.6" y2="658.7" stroke="#cfcfcf" stroke-width="1"/>
<line x1="573.4" y1="656.2" x2="573.4" y2="658.7" stroke="#cfcfcf" stroke-width="1"/>
<line x1="586.1" y1="656.2" x2="586.1" y2="658.7" stroke="#cfcfcf" stroke-width="1"/>
<line x1="598.8" y1="656.2" x2="598.8" y2="658.7" stroke="#cfcfcf" stroke-width="1"/>
<line x1="611.5" y1="656.2" x2="611.5" y2="658.7" stroke="#cfcfcf" stroke-width="1"/>
<line x1="624.2" y1="656.2" x2="624.2" y2="658.7" stroke="#cfcfcf" stroke-width="1"/>
<line x1="637.0" y1="656.2" x2="637.0" y2="658.7" stroke="#cfcfcf" stroke-width="1"/>
<line x1="649.7" y1="656.2" x2="649.7" y2="658.7" stroke="#cfcfcf" stroke-width="1"/>
<line x1="662.4" y1="656.2" x2="662.4" y2="658.7" stroke="#cfcfcf" stroke-width="1"/>
<line x1="675.1" y1="656.2" x2="675.1" y2="658.7" stroke="#cfcfcf" stroke-width="1"/>
<line x1="687.8" y1="656.2" x2="687.8" y2="658.7" stroke="#cfcfcf" stroke-width="1"/>
<line x1="700.6" y1="656.2" x2="700.6" y2="658.7" stroke="#cfcfcf" stroke-width="1"/>
<line x1="713.3" y1="656.2" x2="713.3" y2="658.7" stroke="#cfcfcf" stroke-width="1"/>
<line x1="726.0" y1="656.2" x2="726.0" y2="658.7" stroke="#cfcfcf" stroke-width="1"/>
<line x1="738.7" y1="656.2" x2="738.7" y2="658.7" stroke="#cfcfcf" stroke-width="1"/>
<line x1="751.4" y1="656.2" x2="751.4" y2="658.7" stroke="#cfcfcf" stroke-width="1"/>
<line x1="764.2" y1="656.2" x2="764.2" y2="658.7" stroke="#cfcfcf" stroke-width="1"/>
<line x1="776.9" y1="656.2" x2="776.9" y2="658.7" stroke="#cfcfcf" stroke-width="1"/>
<line x1="789.6" y1="656.2" x2="789.6" y2="658.7" stroke="#cfcfcf" stroke-width="1"/>
<text x="18.6" y="669.5" font-family='"Liberation Sans", Arial, sans-serif' font-size="11.7" fill="#000" stroke="#000" stroke-width="0.2" textLength="14.6" lengthAdjust="spacingAndGlyphs">22</text>
<text x="82.2" y="669.5" font-family='"Liberation Sans", Arial, sans-serif' font-size="11.7" fill="#000" stroke="#000" stroke-width="0.2" textLength="14.6" lengthAdjust="spacingAndGlyphs">29</text>
<text x="115.9" y="669.0" font-family='"Liberation Sans", Arial, sans-serif' font-size="13.8" fill="#000" stroke="#000" stroke-width="0.35" font-weight="bold" textLength="26.2" lengthAdjust="spacingAndGlyphs">Nov</text>
<text x="150.4" y="669.5" font-family='"Liberation Sans", Arial, sans-serif' font-size="11.7" fill="#000" stroke="#000" stroke-width="0.2" textLength="7.0" lengthAdjust="spacingAndGlyphs">5</text>
<text x="209.4" y="669.5" font-family='"Liberation Sans", Arial, sans-serif' font-size="11.7" fill="#000" stroke="#000" stroke-width="0.2" textLength="14.6" lengthAdjust="spacingAndGlyphs">12</text>
<text x="273.0" y="669.5" font-family='"Liberation Sans", Arial, sans-serif' font-size="11.7" fill="#000" stroke="#000" stroke-width="0.2" textLength="14.6" lengthAdjust="spacingAndGlyphs">19</text>
<text x="322.5" y="669.5" font-family='"Liberation Sans", Arial, sans-serif' font-size="11.7" fill="#000" stroke="#000" stroke-width="0.2" textLength="14.6" lengthAdjust="spacingAndGlyphs">26</text>
<text x="382.1" y="669.0" font-family='"Liberation Sans", Arial, sans-serif' font-size="13.8" fill="#000" stroke="#000" stroke-width="0.35" font-weight="bold" textLength="26.6" lengthAdjust="spacingAndGlyphs">Dec</text>
<text x="438.4" y="669.5" font-family='"Liberation Sans", Arial, sans-serif' font-size="11.7" fill="#000" stroke="#000" stroke-width="0.2" textLength="14.6" lengthAdjust="spacingAndGlyphs">10</text>
<text x="502.0" y="669.5" font-family='"Liberation Sans", Arial, sans-serif' font-size="11.7" fill="#000" stroke="#000" stroke-width="0.2" textLength="14.6" lengthAdjust="spacingAndGlyphs">17</text>
<text x="565.6" y="669.5" font-family='"Liberation Sans", Arial, sans-serif' font-size="11.7" fill="#000" stroke="#000" stroke-width="0.2" textLength="14.6" lengthAdjust="spacingAndGlyphs">24</text>
<text x="621.8" y="669.0" font-family='"Liberation Sans", Arial, sans-serif' font-size="13.8" fill="#000" stroke="#000" stroke-width="0.35" font-weight="bold" textLength="29.3" lengthAdjust="spacingAndGlyphs">2019</text>
<text x="671.9" y="669.5" font-family='"Liberation Sans", Arial, sans-serif' font-size="11.7" fill="#000" stroke="#000" stroke-width="0.2" textLength="7.0" lengthAdjust="spacingAndGlyphs">7</text>
<text x="730.9" y="669.5" font-family='"Liberation Sans", Arial, sans-serif' font-size="11.7" fill="#000" stroke="#000" stroke-width="0.2" textLength="14.6" lengthAdjust="spacingAndGlyphs">14</text>
<line x1="26.4" y1="672.6" x2="26.4" y2="675.6" stroke="#e4e4e4" stroke-width="1"/>
<line x1="90.0" y1="672.6" x2="90.0" y2="675.6" stroke="#e4e4e4" stroke-width="1"/>
<line x1="128.2" y1="672.6" x2="128.2" y2="675.6" stroke="#e4e4e4" stroke-width="1"/>
<line x1="153.6" y1="672.6" x2="153.6" y2="675.6" stroke="#e4e4e4" stroke-width="1"/>
<line x1="217.2" y1="672.6" x2="217.2" y2="675.6" stroke="#e4e4e4" stroke-width="1"/>
<line x1="280.8" y1="672.6" x2="280.8" y2="675.6" stroke="#e4e4e4" stroke-width="1"/>
<line x1="331.7" y1="672.6" x2="331.7" y2="675.6" stroke="#e4e4e4" stroke-width="1"/>
<line x1="395.3" y1="672.6" x2="395.3" y2="675.6" stroke="#e4e4e4" stroke-width="1"/>
<line x1="446.2" y1="672.6" x2="446.2" y2="675.6" stroke="#e4e4e4" stroke-width="1"/>
<line x1="509.8" y1="672.6" x2="509.8" y2="675.6" stroke="#e4e4e4" stroke-width="1"/>
<line x1="573.4" y1="672.6" x2="573.4" y2="675.6" stroke="#e4e4e4" stroke-width="1"/>
<line x1="637.0" y1="672.6" x2="637.0" y2="675.6" stroke="#e4e4e4" stroke-width="1"/>
<line x1="675.1" y1="672.6" x2="675.1" y2="675.6" stroke="#e4e4e4" stroke-width="1"/>
<line x1="738.7" y1="672.6" x2="738.7" y2="675.6" stroke="#e4e4e4" stroke-width="1"/>
<rect x="8.0" y="535.4" width="792.3" height="120.8" fill="#ffffff" stroke="none" stroke-width="1"/>
<line x1="8.0" y1="550.3" x2="800.3" y2="550.3" stroke="#dedede" stroke-width="1"/>
<line x1="8.0" y1="566.6" x2="800.3" y2="566.6" stroke="#dedede" stroke-width="1"/>
<line x1="8.0" y1="582.9" x2="800.3" y2="582.9" stroke="#dedede" stroke-width="1"/>
<line x1="8.0" y1="599.2" x2="800.3" y2="599.2" stroke="#dedede" stroke-width="1"/>
<line x1="8.0" y1="615.5" x2="800.3" y2="615.5" stroke="#dedede" stroke-width="1"/>
<line x1="8.0" y1="631.8" x2="800.3" y2="631.8" stroke="#dedede" stroke-width="1"/>
<line x1="8.0" y1="648.1" x2="800.3" y2="648.1" stroke="#dedede" stroke-width="1"/>
<line x1="26.4" y1="535.4" x2="26.4" y2="656.2" stroke="#d4d4d4" stroke-width="1"/>
<line x1="90.0" y1="535.4" x2="90.0" y2="656.2" stroke="#d4d4d4" stroke-width="1"/>
<line x1="153.6" y1="535.4" x2="153.6" y2="656.2" stroke="#d4d4d4" stroke-width="1"/>
<line x1="217.2" y1="535.4" x2="217.2" y2="656.2" stroke="#d4d4d4" stroke-width="1"/>
<line x1="280.8" y1="535.4" x2="280.8" y2="656.2" stroke="#d4d4d4" stroke-width="1"/>
<line x1="331.7" y1="535.4" x2="331.7" y2="656.2" stroke="#d4d4d4" stroke-width="1"/>
<line x1="446.2" y1="535.4" x2="446.2" y2="656.2" stroke="#d4d4d4" stroke-width="1"/>
<line x1="509.8" y1="535.4" x2="509.8" y2="656.2" stroke="#d4d4d4" stroke-width="1"/>
<line x1="573.4" y1="535.4" x2="573.4" y2="656.2" stroke="#d4d4d4" stroke-width="1"/>
<line x1="625.0" y1="535.4" x2="625.0" y2="656.2" stroke="#d4d4d4" stroke-width="1"/>
<line x1="675.1" y1="535.4" x2="675.1" y2="656.2" stroke="#d4d4d4" stroke-width="1"/>
<line x1="738.7" y1="535.4" x2="738.7" y2="656.2" stroke="#d4d4d4" stroke-width="1"/>
<line x1="128.7" y1="535.4" x2="128.7" y2="656.2" stroke="#b2b2b2" stroke-width="1.0"/>
<line x1="395.4" y1="535.4" x2="395.4" y2="656.2" stroke="#b2b2b2" stroke-width="1.0"/>
<line x1="637.6" y1="535.4" x2="637.6" y2="656.2" stroke="#b2b2b2" stroke-width="1.0"/>
<clipPath id="cd"><rect x="8.0" y="535.4" width="792.3" height="120.80000000000007"/></clipPath>
<g clip-path="url(#cd)">
<polygon points="8.8,566.4 17.4,566.4 17.4,579.0 16.0,580.4 8.8,580.4" fill="#58a6cc" stroke="#226f97" stroke-width="0.9"/>
<polygon points="21.5,566.4 30.1,566.4 30.1,577.5 28.7,578.9 21.5,578.9" fill="#58a6cc" stroke="#226f97" stroke-width="0.9"/>
<polygon points="34.2,566.4 42.8,566.4 42.8,581.5 41.4,582.9 34.2,582.9" fill="#58a6cc" stroke="#226f97" stroke-width="0.9"/>
<polygon points="47.0,566.4 55.6,566.4 55.6,583.8 54.2,585.2 47.0,585.2" fill="#58a6cc" stroke="#226f97" stroke-width="0.9"/>
<polygon points="59.7,566.4 68.3,566.4 68.3,581.5 66.9,582.9 59.7,582.9" fill="#58a6cc" stroke="#226f97" stroke-width="0.9"/>
<polygon points="72.4,566.4 81.0,566.4 81.0,581.5 79.6,582.9 72.4,582.9" fill="#58a6cc" stroke="#226f97" stroke-width="0.9"/>
<polygon points="85.2,566.4 93.8,566.4 93.8,576.4 92.4,577.8 85.2,577.8" fill="#58a6cc" stroke="#226f97" stroke-width="0.9"/>
<polygon points="97.9,566.4 106.5,566.4 106.5,572.6 105.1,574.0 97.9,574.0" fill="#58a6cc" stroke="#226f97" stroke-width="0.9"/>
<rect x="110.7" y="566.0" width="8.6" height="2.2" fill="#58a6cc" stroke="#226f97" stroke-width="0.9"/>
<rect x="123.4" y="562.4" width="8.6" height="3.6" fill="#58a6cc" stroke="#226f97" stroke-width="0.9"/>
<rect x="136.1" y="558.9" width="8.6" height="7.1" fill="#58a6cc" stroke="#226f97" stroke-width="0.9"/>
<rect x="148.9" y="555.1" width="8.6" height="10.9" fill="#58a6cc" stroke="#226f97" stroke-width="0.9"/>
<rect x="161.6" y="553.8" width="8.6" height="12.2" fill="#58a6cc" stroke="#226f97" stroke-width="0.9"/>
<rect x="174.3" y="551.3" width="8.6" height="14.7" fill="#58a6cc" stroke="#226f97" stroke-width="0.9"/>
<rect x="187.1" y="551.3" width="8.6" height="14.7" fill="#58a6cc" stroke="#226f97" stroke-width="0.9"/>
<rect x="199.8" y="551.3" width="8.6" height="14.7" fill="#58a6cc" stroke="#226f97" stroke-width="0.9"/>
<rect x="212.6" y="555.1" width="8.6" height="10.9" fill="#58a6cc" stroke="#226f97" stroke-width="0.9"/>
<rect x="225.3" y="555.1" width="8.6" height="10.9" fill="#58a6cc" stroke="#226f97" stroke-width="0.9"/>
<rect x="238.0" y="557.6" width="8.6" height="8.4" fill="#58a6cc" stroke="#226f97" stroke-width="0.9"/>
<rect x="250.8" y="558.9" width="8.6" height="7.1" fill="#58a6cc" stroke="#226f97" stroke-width="0.9"/>
<rect x="263.5" y="561.4" width="8.6" height="4.6" fill="#58a6cc" stroke="#226f97" stroke-width="0.9"/>
<rect x="276.2" y="563.7" width="8.6" height="2.3" fill="#58a6cc" stroke="#226f97" stroke-width="0.9"/>
<polygon points="289.0,566.4 297.6,566.4 297.6,568.1 296.2,569.5 289.0,569.5" fill="#58a6cc" stroke="#226f97" stroke-width="0.9"/>
<polygon points="301.7,566.4 310.3,566.4 310.3,568.1 308.9,569.5 301.7,569.5" fill="#58a6cc" stroke="#226f97" stroke-width="0.9"/>
<polygon points="314.5,566.4 323.1,566.4 323.1,567.6 321.7,569.0 314.5,569.0" fill="#58a6cc" stroke="#226f97" stroke-width="0.9"/>
<rect x="327.2" y="565.0" width="8.6" height="1.0" fill="#58a6cc" stroke="#226f97" stroke-width="0.9"/>
<rect x="339.9" y="562.7" width="8.6" height="3.3" fill="#58a6cc" stroke="#226f97" stroke-width="0.9"/>
<rect x="352.7" y="562.7" width="8.6" height="3.3" fill="#58a6cc" stroke="#226f97" stroke-width="0.9"/>
<rect x="365.4" y="561.4" width="8.6" height="4.6" fill="#58a6cc" stroke="#226f97" stroke-width="0.9"/>
<rect x="378.1" y="561.4" width="8.6" height="4.6" fill="#58a6cc" stroke="#226f97" stroke-width="0.9"/>
<rect x="390.9" y="557.6" width="8.6" height="8.4" fill="#58a6cc" stroke="#226f97" stroke-width="0.9"/>
<rect x="403.6" y="557.6" width="8.6" height="8.4" fill="#58a6cc" stroke="#226f97" stroke-width="0.9"/>
<polygon points="416.3,566.4 424.9,566.4 424.9,568.1 423.5,569.5 416.3,569.5" fill="#58a6cc" stroke="#226f97" stroke-width="0.9"/>
<polygon points="429.1,566.4 437.7,566.4 437.7,575.2 436.3,576.6 429.1,576.6" fill="#58a6cc" stroke="#226f97" stroke-width="0.9"/>
<polygon points="441.8,566.4 450.4,566.4 450.4,582.8 449.0,584.2 441.8,584.2" fill="#58a6cc" stroke="#226f97" stroke-width="0.9"/>
<polygon points="454.6,566.4 463.2,566.4 463.2,582.8 461.8,584.2 454.6,584.2" fill="#58a6cc" stroke="#226f97" stroke-width="0.9"/>
<polygon points="467.3,566.4 475.9,566.4 475.9,577.7 474.5,579.1 467.3,579.1" fill="#58a6cc" stroke="#226f97" stroke-width="0.9"/>
<polygon points="480.0,566.4 488.6,566.4 488.6,573.9 487.2,575.3 480.0,575.3" fill="#58a6cc" stroke="#226f97" stroke-width="0.9"/>
<polygon points="492.8,566.4 501.4,566.4 501.4,572.6 500.0,574.0 492.8,574.0" fill="#58a6cc" stroke="#226f97" stroke-width="0.9"/>
<polygon points="505.5,566.4 514.1,566.4 514.1,571.4 512.7,572.8 505.5,572.8" fill="#58a6cc" stroke="#226f97" stroke-width="0.9"/>
<polygon points="518.2,566.4 526.8,566.4 526.8,571.4 525.4,572.8 518.2,572.8" fill="#58a6cc" stroke="#226f97" stroke-width="0.9"/>
<polygon points="531.0,566.4 539.6,566.4 539.6,570.1 538.2,571.5 531.0,571.5" fill="#58a6cc" stroke="#226f97" stroke-width="0.9"/>
<polygon points="543.7,566.4 552.3,566.4 552.3,571.4 550.9,572.8 543.7,572.8" fill="#58a6cc" stroke="#226f97" stroke-width="0.9"/>
<polygon points="556.5,566.4 565.1,566.4 565.1,571.4 563.7,572.8 556.5,572.8" fill="#58a6cc" stroke="#226f97" stroke-width="0.9"/>
<polygon points="594.7,566.4 603.3,566.4 603.3,576.4 601.9,577.8 594.7,577.8" fill="#58a6cc" stroke="#226f97" stroke-width="0.9"/>
<polygon points="607.4,566.4 616.0,566.4 616.0,573.9 614.6,575.3 607.4,575.3" fill="#58a6cc" stroke="#226f97" stroke-width="0.9"/>
<polygon points="632.9,566.4 641.5,566.4 641.5,571.4 640.1,572.8 632.9,572.8" fill="#58a6cc" stroke="#226f97" stroke-width="0.9"/>
<polygon points="645.6,566.4 654.2,566.4 654.2,571.4 652.8,572.8 645.6,572.8" fill="#58a6cc" stroke="#226f97" stroke-width="0.9"/>
<rect x="658.4" y="565.0" width="8.6" height="1.0" fill="#58a6cc" stroke="#226f97" stroke-width="0.9"/>
<rect x="671.1" y="560.1" width="8.6" height="5.9" fill="#58a6cc" stroke="#226f97" stroke-width="0.9"/>
<rect x="683.8" y="556.3" width="8.6" height="9.7" fill="#58a6cc" stroke="#226f97" stroke-width="0.9"/>
<rect x="696.6" y="551.3" width="8.6" height="14.7" fill="#58a6cc" stroke="#226f97" stroke-width="0.9"/>
<rect x="709.3" y="547.5" width="8.6" height="18.5" fill="#58a6cc" stroke="#226f97" stroke-width="0.9"/>
<rect x="722.0" y="547.5" width="8.6" height="18.5" fill="#58a6cc" stroke="#226f97" stroke-width="0.9"/>
<rect x="734.8" y="547.5" width="8.6" height="18.5" fill="#58a6cc" stroke="#226f97" stroke-width="0.9"/>
<rect x="747.5" y="548.7" width="8.6" height="17.3" fill="#58a6cc" stroke="#226f97" stroke-width="0.9"/>
<rect x="760.2" y="548.7" width="8.6" height="17.3" fill="#58a6cc" stroke="#226f97" stroke-width="0.9"/>
<rect x="773.0" y="548.7" width="8.6" height="17.3" fill="#58a6cc" stroke="#226f97" stroke-width="0.9"/>
<rect x="785.7" y="543.8" width="8.6" height="22.2" fill="#58a6cc" stroke="#226f97" stroke-width="0.9"/>
</g>
<rect x="9.0" y="536.3" width="293.0" height="14.5" fill="#ffffff" stroke="none" stroke-width="1"/>
<g clip-path="url(#cd)">
<polyline points="1.0,610.6 13.7,613.3 26.4,616.8 39.1,621.4 51.8,625.9 64.6,629.5 77.3,632.8 90.0,635.3 102.7,637.3 115.4,637.8 128.2,636.6 140.9,634.8 153.6,631.5 166.3,628.5 179.0,624.4 191.8,620.6 204.5,616.8 217.2,613.6 229.9,611.3 242.6,609.2 255.4,608.0 268.1,606.7 280.8,605.7 293.5,606.2 306.2,606.7 319.0,606.7 331.7,606.7 344.4,605.7 357.1,604.2 369.8,602.9 382.6,601.6 395.3,599.9 408.0,597.8 420.7,597.6 433.4,600.4 446.2,605.4 458.9,609.2 471.6,611.8 484.3,613.8 497.0,615.6 509.8,617.6 522.5,618.9 535.2,620.1 547.9,621.9 560.6,623.9 598.8,627.0 611.5,628.2 637.0,629.0 649.7,631.5 662.4,630.3 675.1,629.0 687.8,626.5 700.6,622.7 713.3,617.6 726.0,612.5 738.7,608.0 751.4,604.2 764.2,599.4 776.9,594.3 789.6,589.2" fill="none" stroke="#f02020" stroke-width="1.3" stroke-linejoin="round"/>
<polyline points="1.0,623.9 13.7,626.3 26.4,629.0 39.1,636.6 51.8,643.7 64.6,645.4 77.3,648.0 90.0,646.7 102.7,644.9 115.4,638.6 128.2,632.8 140.9,626.5 153.6,621.4 166.3,616.3 179.0,610.0 191.8,604.9 204.5,601.3 217.2,604.0 229.9,599.9 242.6,599.9 255.4,599.9 268.1,599.9 280.8,602.9 293.5,608.7 306.2,608.7 319.0,608.7 331.7,605.7 344.4,603.2 357.1,600.4 369.8,597.8 382.6,596.6 395.3,590.5 408.0,589.2 420.7,599.9 433.4,610.5 446.2,621.4 458.9,625.2 471.6,623.9 484.3,622.7 497.0,622.7 509.8,623.9 522.5,625.2 535.2,625.2 547.9,627.2 560.6,629.0 598.8,636.1 611.5,636.1 637.0,634.8 649.7,637.3 662.4,627.7 675.1,621.4 687.8,615.1 700.6,606.2 713.3,598.6 726.0,592.3 738.7,588.5 751.4,584.7 764.2,580.4 776.9,576.6 789.6,567.0" fill="none" stroke="#1a1a1a" stroke-width="2.0" stroke-linejoin="round"/>
</g>
<line x1="11.4" y1="543.7" x2="21.6" y2="543.7" stroke="#000" stroke-width="2.2"/>
<text transform="translate(25.6 548.0) scale(1.2 1)" font-family='"DejaVu Sans", "Liberation Sans", sans-serif' font-size="11" fill="#111" letter-spacing="0.21" stroke="#111" stroke-width="0.25">MACD(12,26,9)</text>
<text transform="translate(136.6 548.0) scale(1.2 1)" font-family='"DejaVu Sans", "Liberation Sans", sans-serif' font-size="11" fill="#111" letter-spacing="0.43" stroke="#111" stroke-width="0.25">0.038</text>
<text transform="translate(177.6 548.0) scale(1.2 1)" font-family='"DejaVu Sans", "Liberation Sans", sans-serif' font-size="11" fill="#ee2222" stroke="#ee2222" stroke-width="0.25">,</text>
<text transform="translate(187.5 548.0) scale(1.2 1)" font-family='"DejaVu Sans", "Liberation Sans", sans-serif' font-size="11" fill="#ee2222" letter-spacing="0.59" stroke="#ee2222" stroke-width="0.25">-67.640</text>
<text transform="translate(243.5 548.0) scale(1.2 1)" font-family='"DejaVu Sans", "Liberation Sans", sans-serif' font-size="11" fill="#3399cc" stroke="#3399cc" stroke-width="0.25">,</text>
<text transform="translate(252.3 548.0) scale(1.2 1)" font-family='"DejaVu Sans", "Liberation Sans", sans-serif' font-size="11" fill="#3399cc" letter-spacing="0.43" stroke="#3399cc" stroke-width="0.25">67.678</text>
<rect x="8.0" y="535.4" width="792.3" height="120.8" fill="none" stroke="#c6c6c6" stroke-width="1.4"/>
<line x1="800.3" y1="648.1" x2="803.3" y2="648.1" stroke="#cfcfcf" stroke-width="1"/>
<line x1="800.3" y1="631.8" x2="803.3" y2="631.8" stroke="#cfcfcf" stroke-width="1"/>
<line x1="800.3" y1="615.5" x2="803.3" y2="615.5" stroke="#cfcfcf" stroke-width="1"/>
<line x1="800.3" y1="599.2" x2="803.3" y2="599.2" stroke="#cfcfcf" stroke-width="1"/>
<line x1="800.3" y1="582.9" x2="803.3" y2="582.9" stroke="#cfcfcf" stroke-width="1"/>
<line x1="800.3" y1="566.6" x2="803.3" y2="566.6" stroke="#cfcfcf" stroke-width="1"/>
<line x1="800.3" y1="550.3" x2="803.3" y2="550.3" stroke="#cfcfcf" stroke-width="1"/>
<line x1="800.3" y1="654.6" x2="801.9" y2="654.6" stroke="#cfcfcf" stroke-width="1"/>
<line x1="800.3" y1="651.4" x2="801.9" y2="651.4" stroke="#cfcfcf" stroke-width="1"/>
<line x1="800.3" y1="648.1" x2="801.9" y2="648.1" stroke="#cfcfcf" stroke-width="1"/>
<line x1="800.3" y1="644.8" x2="801.9" y2="644.8" stroke="#cfcfcf" stroke-width="1"/>
<line x1="800.3" y1="641.6" x2="801.9" y2="641.6" stroke="#cfcfcf" stroke-width="1"/>
<line x1="800.3" y1="638.3" x2="801.9" y2="638.3" stroke="#cfcfcf" stroke-width="1"/>
<line x1="800.3" y1="635.1" x2="801.9" y2="635.1" stroke="#cfcfcf" stroke-width="1"/>
<line x1="800.3" y1="631.8" x2="801.9" y2="631.8" stroke="#cfcfcf" stroke-width="1"/>
<line x1="800.3" y1="628.5" x2="801.9" y2="628.5" stroke="#cfcfcf" stroke-width="1"/>
<line x1="800.3" y1="625.3" x2="801.9" y2="625.3" stroke="#cfcfcf" stroke-width="1"/>
<line x1="800.3" y1="622.0" x2="801.9" y2="622.0" stroke="#cfcfcf" stroke-width="1"/>
<line x1="800.3" y1="618.8" x2="801.9" y2="618.8" stroke="#cfcfcf" stroke-width="1"/>
<line x1="800.3" y1="615.5" x2="801.9" y2="615.5" stroke="#cfcfcf" stroke-width="1"/>
<line x1="800.3" y1="612.2" x2="801.9" y2="612.2" stroke="#cfcfcf" stroke-width="1"/>
<line x1="800.3" y1="609.0" x2="801.9" y2="609.0" stroke="#cfcfcf" stroke-width="1"/>
<line x1="800.3" y1="605.7" x2="801.9" y2="605.7" stroke="#cfcfcf" stroke-width="1"/>
<line x1="800.3" y1="602.5" x2="801.9" y2="602.5" stroke="#cfcfcf" stroke-width="1"/>
<line x1="800.3" y1="599.2" x2="801.9" y2="599.2" stroke="#cfcfcf" stroke-width="1"/>
<line x1="800.3" y1="595.9" x2="801.9" y2="595.9" stroke="#cfcfcf" stroke-width="1"/>
<line x1="800.3" y1="592.7" x2="801.9" y2="592.7" stroke="#cfcfcf" stroke-width="1"/>
<line x1="800.3" y1="589.4" x2="801.9" y2="589.4" stroke="#cfcfcf" stroke-width="1"/>
<line x1="800.3" y1="586.2" x2="801.9" y2="586.2" stroke="#cfcfcf" stroke-width="1"/>
<line x1="800.3" y1="582.9" x2="801.9" y2="582.9" stroke="#cfcfcf" stroke-width="1"/>
<line x1="800.3" y1="579.6" x2="801.9" y2="579.6" stroke="#cfcfcf" stroke-width="1"/>
<line x1="800.3" y1="576.4" x2="801.9" y2="576.4" stroke="#cfcfcf" stroke-width="1"/>
<line x1="800.3" y1="573.1" x2="801.9" y2="573.1" stroke="#cfcfcf" stroke-width="1"/>
<line x1="800.3" y1="569.9" x2="801.9" y2="569.9" stroke="#cfcfcf" stroke-width="1"/>
<line x1="800.3" y1="566.6" x2="801.9" y2="566.6" stroke="#cfcfcf" stroke-width="1"/>
<line x1="800.3" y1="563.3" x2="801.9" y2="563.3" stroke="#cfcfcf" stroke-width="1"/>
<line x1="800.3" y1="560.1" x2="801.9" y2="560.1" stroke="#cfcfcf" stroke-width="1"/>
<line x1="800.3" y1="556.8" x2="801.9" y2="556.8" stroke="#cfcfcf" stroke-width="1"/>
<line x1="800.3" y1="553.6" x2="801.9" y2="553.6" stroke="#cfcfcf" stroke-width="1"/>
<line x1="800.3" y1="550.3" x2="801.9" y2="550.3" stroke="#cfcfcf" stroke-width="1"/>
<line x1="800.3" y1="547.0" x2="801.9" y2="547.0" stroke="#cfcfcf" stroke-width="1"/>
<line x1="800.3" y1="543.8" x2="801.9" y2="543.8" stroke="#cfcfcf" stroke-width="1"/>
<text x="805.0" y="554.2" font-family='"Liberation Sans", Arial, sans-serif' font-size="11.8" fill="#000" stroke="#000" stroke-width="0.2" textLength="14.0" lengthAdjust="spacingAndGlyphs">50</text>
<text x="805.0" y="586.8" font-family='"Liberation Sans", Arial, sans-serif' font-size="11.8" fill="#000" stroke="#000" stroke-width="0.2" textLength="18.5" lengthAdjust="spacingAndGlyphs">-50</text>
<text x="805.0" y="603.2" font-family='"Liberation Sans", Arial, sans-serif' font-size="11.8" fill="#000" stroke="#000" stroke-width="0.2" textLength="25.5" lengthAdjust="spacingAndGlyphs">-100</text>
<text x="805.0" y="619.5" font-family='"Liberation Sans", Arial, sans-serif' font-size="11.8" fill="#000" stroke="#000" stroke-width="0.2" textLength="25.5" lengthAdjust="spacingAndGlyphs">-150</text>
<text x="805.0" y="635.7" font-family='"Liberation Sans", Arial, sans-serif' font-size="11.8" fill="#000" stroke="#000" stroke-width="0.2" textLength="25.5" lengthAdjust="spacingAndGlyphs">-200</text>
<text x="805.0" y="651.1" font-family='"Liberation Sans", Arial, sans-serif' font-size="11.8" fill="#000" stroke="#000" stroke-width="0.2" textLength="25.5" lengthAdjust="spacingAndGlyphs">-250</text>
<polygon points="797.3,543.1 801.6,536.8 846.3,536.8 846.3,549.4 801.6,549.4" fill="#fff" stroke="#4a7ab8" stroke-width="1.2" stroke-linejoin="miter"/>
<text x="803.4" y="547.5" font-family='"Liberation Sans", Arial, sans-serif' font-size="12.2" fill="#000" stroke="#000" stroke-width="0.2" textLength="40.8" lengthAdjust="spacingAndGlyphs">67.678</text>
<polygon points="797.3,565.3 801.6,559.3 839.1,559.3 839.1,571.3 801.6,571.3" fill="#fff" stroke="#222" stroke-width="1.2" stroke-linejoin="miter"/>
<text x="803.4" y="569.7" font-family='"Liberation Sans", Arial, sans-serif' font-size="12.2" fill="#000" stroke="#000" stroke-width="0.2" textLength="33.5" lengthAdjust="spacingAndGlyphs">0.038</text>
<polygon points="797.3,588.0 801.6,581.6 850.9,581.6 850.9,594.4 801.6,594.4" fill="#fff" stroke="#ee2222" stroke-width="1.4" stroke-linejoin="miter"/>
<text x="803.4" y="592.4" font-family='"Liberation Sans", Arial, sans-serif' font-size="12.2" fill="#000" stroke="#000" stroke-width="0.2" textLength="44.8" lengthAdjust="spacingAndGlyphs">-67.640</text>
</svg></body></html>
